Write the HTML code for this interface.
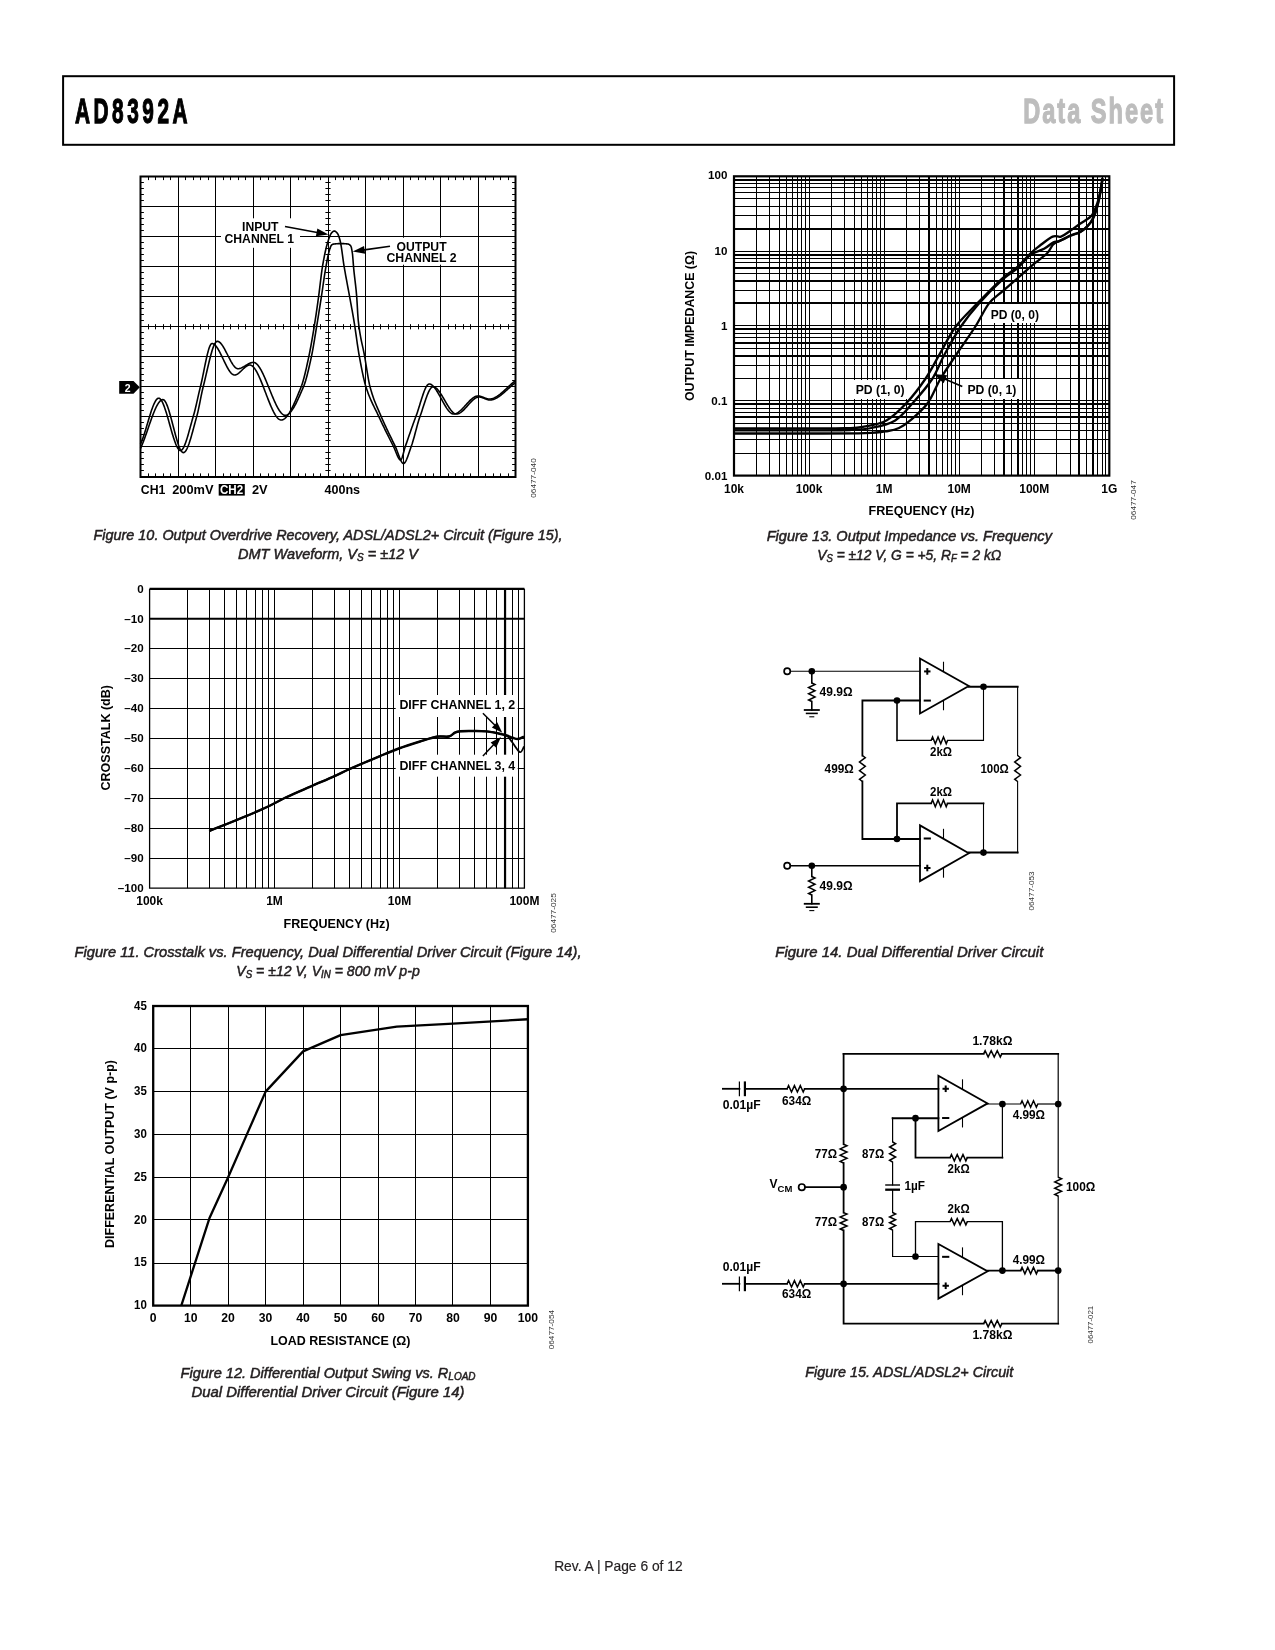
<!DOCTYPE html><html><head><meta charset="utf-8"><style>html,body{margin:0;padding:0;background:#fff;}svg{display:block;will-change:transform;}</style></head><body>
<svg width="1275" height="1650" viewBox="0 0 1275 1650">
<rect x="0" y="0" width="1275" height="1650" fill="#fff"/>
<rect x="63.1" y="76.2" width="1111" height="68.6" fill="none" stroke="#000" stroke-width="2"/>
<text transform="translate(75,122.8) scale(0.57,0.975)" font-family="Liberation Sans" font-size="36.5" font-weight="bold" letter-spacing="6.2" fill="#000" stroke="#000" stroke-width="1.3">AD8392A</text>
<text transform="translate(1023.2,122.8) scale(0.646,0.975)" font-family="Liberation Sans" font-size="36.5" font-weight="bold" letter-spacing="3.1" fill="#bdbdbd" stroke="#bdbdbd" stroke-width="1.3">Data Sheet</text>
<path d="M178.5,176.5V477 M215.5,176.5V477 M253.5,176.5V477 M290.5,176.5V477 M328.5,176.5V477 M365.5,176.5V477 M403.5,176.5V477 M440.5,176.5V477 M478.5,176.5V477 M140.5,206.5H515.5 M140.5,236.5H515.5 M140.5,266.5H515.5 M140.5,296.5H515.5 M140.5,326.5H515.5 M140.5,356.5H515.5 M140.5,386.5H515.5 M140.5,416.5H515.5 M140.5,446.5H515.5 M148.5,176.5V180.1 M148.5,477V473.4 M148.5,324.15V329.35 M155.5,176.5V180.1 M155.5,477V473.4 M155.5,324.15V329.35 M163.5,176.5V180.1 M163.5,477V473.4 M163.5,324.15V329.35 M170.5,176.5V180.1 M170.5,477V473.4 M170.5,324.15V329.35 M185.5,176.5V180.1 M185.5,477V473.4 M185.5,324.15V329.35 M193.5,176.5V180.1 M193.5,477V473.4 M193.5,324.15V329.35 M200.5,176.5V180.1 M200.5,477V473.4 M200.5,324.15V329.35 M208.5,176.5V180.1 M208.5,477V473.4 M208.5,324.15V329.35 M223.5,176.5V180.1 M223.5,477V473.4 M223.5,324.15V329.35 M230.5,176.5V180.1 M230.5,477V473.4 M230.5,324.15V329.35 M238.5,176.5V180.1 M238.5,477V473.4 M238.5,324.15V329.35 M245.5,176.5V180.1 M245.5,477V473.4 M245.5,324.15V329.35 M260.5,176.5V180.1 M260.5,477V473.4 M260.5,324.15V329.35 M268.5,176.5V180.1 M268.5,477V473.4 M268.5,324.15V329.35 M275.5,176.5V180.1 M275.5,477V473.4 M275.5,324.15V329.35 M283.5,176.5V180.1 M283.5,477V473.4 M283.5,324.15V329.35 M298.5,176.5V180.1 M298.5,477V473.4 M298.5,324.15V329.35 M305.5,176.5V180.1 M305.5,477V473.4 M305.5,324.15V329.35 M313.5,176.5V180.1 M313.5,477V473.4 M313.5,324.15V329.35 M320.5,176.5V180.1 M320.5,477V473.4 M320.5,324.15V329.35 M335.5,176.5V180.1 M335.5,477V473.4 M335.5,324.15V329.35 M343.5,176.5V180.1 M343.5,477V473.4 M343.5,324.15V329.35 M350.5,176.5V180.1 M350.5,477V473.4 M350.5,324.15V329.35 M358.5,176.5V180.1 M358.5,477V473.4 M358.5,324.15V329.35 M373.5,176.5V180.1 M373.5,477V473.4 M373.5,324.15V329.35 M380.5,176.5V180.1 M380.5,477V473.4 M380.5,324.15V329.35 M388.5,176.5V180.1 M388.5,477V473.4 M388.5,324.15V329.35 M395.5,176.5V180.1 M395.5,477V473.4 M395.5,324.15V329.35 M410.5,176.5V180.1 M410.5,477V473.4 M410.5,324.15V329.35 M418.5,176.5V180.1 M418.5,477V473.4 M418.5,324.15V329.35 M425.5,176.5V180.1 M425.5,477V473.4 M425.5,324.15V329.35 M433.5,176.5V180.1 M433.5,477V473.4 M433.5,324.15V329.35 M448.5,176.5V180.1 M448.5,477V473.4 M448.5,324.15V329.35 M455.5,176.5V180.1 M455.5,477V473.4 M455.5,324.15V329.35 M463.5,176.5V180.1 M463.5,477V473.4 M463.5,324.15V329.35 M470.5,176.5V180.1 M470.5,477V473.4 M470.5,324.15V329.35 M485.5,176.5V180.1 M485.5,477V473.4 M485.5,324.15V329.35 M493.5,176.5V180.1 M493.5,477V473.4 M493.5,324.15V329.35 M500.5,176.5V180.1 M500.5,477V473.4 M500.5,324.15V329.35 M508.5,176.5V180.1 M508.5,477V473.4 M508.5,324.15V329.35 M140.5,182.5H143.9 M515.5,182.5H512.1 M325.4,182.5H330.6 M140.5,188.5H143.9 M515.5,188.5H512.1 M325.4,188.5H330.6 M140.5,194.5H143.9 M515.5,194.5H512.1 M325.4,194.5H330.6 M140.5,200.5H143.9 M515.5,200.5H512.1 M325.4,200.5H330.6 M140.5,212.5H143.9 M515.5,212.5H512.1 M325.4,212.5H330.6 M140.5,218.5H143.9 M515.5,218.5H512.1 M325.4,218.5H330.6 M140.5,224.5H143.9 M515.5,224.5H512.1 M325.4,224.5H330.6 M140.5,230.5H143.9 M515.5,230.5H512.1 M325.4,230.5H330.6 M140.5,242.5H143.9 M515.5,242.5H512.1 M325.4,242.5H330.6 M140.5,248.5H143.9 M515.5,248.5H512.1 M325.4,248.5H330.6 M140.5,254.5H143.9 M515.5,254.5H512.1 M325.4,254.5H330.6 M140.5,260.5H143.9 M515.5,260.5H512.1 M325.4,260.5H330.6 M140.5,272.5H143.9 M515.5,272.5H512.1 M325.4,272.5H330.6 M140.5,278.5H143.9 M515.5,278.5H512.1 M325.4,278.5H330.6 M140.5,284.5H143.9 M515.5,284.5H512.1 M325.4,284.5H330.6 M140.5,290.5H143.9 M515.5,290.5H512.1 M325.4,290.5H330.6 M140.5,302.5H143.9 M515.5,302.5H512.1 M325.4,302.5H330.6 M140.5,308.5H143.9 M515.5,308.5H512.1 M325.4,308.5H330.6 M140.5,314.5H143.9 M515.5,314.5H512.1 M325.4,314.5H330.6 M140.5,320.5H143.9 M515.5,320.5H512.1 M325.4,320.5H330.6 M140.5,332.5H143.9 M515.5,332.5H512.1 M325.4,332.5H330.6 M140.5,338.5H143.9 M515.5,338.5H512.1 M325.4,338.5H330.6 M140.5,344.5H143.9 M515.5,344.5H512.1 M325.4,344.5H330.6 M140.5,350.5H143.9 M515.5,350.5H512.1 M325.4,350.5H330.6 M140.5,362.5H143.9 M515.5,362.5H512.1 M325.4,362.5H330.6 M140.5,368.5H143.9 M515.5,368.5H512.1 M325.4,368.5H330.6 M140.5,374.5H143.9 M515.5,374.5H512.1 M325.4,374.5H330.6 M140.5,380.5H143.9 M515.5,380.5H512.1 M325.4,380.5H330.6 M140.5,392.5H143.9 M515.5,392.5H512.1 M325.4,392.5H330.6 M140.5,398.5H143.9 M515.5,398.5H512.1 M325.4,398.5H330.6 M140.5,404.5H143.9 M515.5,404.5H512.1 M325.4,404.5H330.6 M140.5,410.5H143.9 M515.5,410.5H512.1 M325.4,410.5H330.6 M140.5,422.5H143.9 M515.5,422.5H512.1 M325.4,422.5H330.6 M140.5,428.5H143.9 M515.5,428.5H512.1 M325.4,428.5H330.6 M140.5,434.5H143.9 M515.5,434.5H512.1 M325.4,434.5H330.6 M140.5,440.5H143.9 M515.5,440.5H512.1 M325.4,440.5H330.6 M140.5,452.5H143.9 M515.5,452.5H512.1 M325.4,452.5H330.6 M140.5,458.5H143.9 M515.5,458.5H512.1 M325.4,458.5H330.6 M140.5,464.5H143.9 M515.5,464.5H512.1 M325.4,464.5H330.6 M140.5,470.5H143.9 M515.5,470.5H512.1 M325.4,470.5H330.6" stroke="#000" stroke-width="1" fill="none"/>
<rect x="140.5" y="176.5" width="375" height="300.5" fill="none" stroke="#000" stroke-width="2"/>
<rect x="221" y="218.3" width="79" height="29.5" fill="#fff"/>
<rect x="384" y="237.7" width="77" height="27" fill="#fff"/>
<path d="M140.5,444 L141.01,442.9 L141.51,441.72 L142.02,440.45 L142.52,439.11 L143.03,437.71 L143.53,436.24 L144.04,434.71 L144.54,433.14 L145.05,431.53 L145.56,429.89 L146.06,428.22 L146.57,426.53 L147.07,424.83 L147.58,423.12 L148.08,421.42 L148.59,419.72 L149.09,418.04 L149.6,416.38 L150.11,414.75 L150.61,413.15 L151.12,411.6 L151.62,410.1 L152.13,408.66 L152.63,407.28 L153.14,405.97 L153.64,404.73 L154.15,403.59 L154.66,402.53 L155.16,401.57 L155.67,400.72 L156.17,399.98 L156.68,399.36 L157.18,398.86 L157.69,398.5 L158.19,398.28 L158.7,398.2 L159.21,398.28 L159.72,398.53 L160.23,398.93 L160.74,399.47 L161.25,400.16 L161.76,400.97 L162.27,401.91 L162.77,402.96 L163.28,404.11 L163.79,405.37 L164.3,406.72 L164.81,408.15 L165.32,409.65 L165.83,411.22 L166.34,412.85 L166.85,414.53 L167.36,416.26 L167.87,418.02 L168.38,419.81 L168.89,421.62 L169.4,423.44 L169.9,425.26 L170.41,427.08 L170.92,428.89 L171.43,430.68 L171.94,432.44 L172.45,434.17 L172.96,435.85 L173.47,437.48 L173.98,439.05 L174.49,440.55 L175,441.98 L175.51,443.33 L176.02,444.59 L176.53,445.74 L177.03,446.79 L177.54,447.73 L178.05,448.54 L178.56,449.23 L179.07,449.77 L179.58,450.17 L180.09,450.42 L180.6,450.5 L181.11,450.41 L181.62,450.13 L182.12,449.68 L182.63,449.06 L183.14,448.3 L183.65,447.39 L184.16,446.35 L184.66,445.18 L185.17,443.91 L185.68,442.53 L186.19,441.06 L186.7,439.5 L187.2,437.87 L187.71,436.18 L188.22,434.44 L188.73,432.65 L189.24,430.83 L189.74,428.99 L190.25,427.14 L190.76,425.28 L191.27,423.43 L191.78,421.6 L192.28,419.79 L192.79,418.02 L193.3,416.3 L193.81,414.54 L194.31,412.67 L194.82,410.7 L195.33,408.64 L195.84,406.5 L196.34,404.32 L196.85,402.1 L197.36,399.85 L197.86,397.6 L198.37,395.36 L198.88,393.14 L199.39,390.96 L199.89,388.84 L200.4,386.8 L200.9,384.74 L201.41,382.55 L201.91,380.26 L202.42,377.89 L202.92,375.45 L203.43,372.97 L203.93,370.46 L204.43,367.95 L204.94,365.46 L205.44,363 L205.95,360.6 L206.45,358.27 L206.96,356.04 L207.46,353.93 L207.97,351.96 L208.47,350.14 L208.97,348.5 L209.48,347.05 L209.98,345.83 L210.49,344.84 L210.99,344.11 L211.5,343.66 L212,343.5 L212.5,343.55 L213,343.68 L213.5,343.9 L214,344.2 L214.5,344.58 L215,345.03 L215.5,345.55 L216,346.13 L216.5,346.78 L217,347.48 L217.5,348.23 L218,349.03 L218.5,349.87 L219,350.75 L219.5,351.67 L220,352.61 L220.5,353.59 L221,354.59 L221.5,355.6 L222,356.64 L222.5,357.68 L223,358.73 L223.5,359.77 L224,360.82 L224.5,361.86 L225,362.9 L225.5,363.91 L226,364.91 L226.5,365.89 L227,366.83 L227.5,367.75 L228,368.63 L228.5,369.47 L229,370.27 L229.5,371.02 L230,371.72 L230.5,372.37 L231,372.95 L231.5,373.47 L232,373.92 L232.5,374.3 L233,374.6 L233.5,374.82 L234,374.95 L234.5,375 L235.01,374.97 L235.52,374.87 L236.03,374.72 L236.54,374.51 L237.05,374.26 L237.56,373.96 L238.07,373.62 L238.58,373.25 L239.09,372.84 L239.6,372.41 L240.11,371.95 L240.62,371.48 L241.13,370.99 L241.64,370.5 L242.15,370 L242.66,369.5 L243.17,369.01 L243.68,368.52 L244.19,368.05 L244.7,367.59 L245.21,367.16 L245.72,366.75 L246.23,366.38 L246.74,366.04 L247.25,365.74 L247.76,365.49 L248.27,365.28 L248.78,365.13 L249.29,365.03 L249.8,365 L250.31,365.04 L250.81,365.17 L251.32,365.37 L251.83,365.66 L252.33,366.02 L252.84,366.45 L253.35,366.94 L253.85,367.51 L254.36,368.14 L254.86,368.83 L255.37,369.58 L255.88,370.38 L256.38,371.24 L256.89,372.15 L257.4,373.1 L257.9,374.1 L258.41,375.14 L258.92,376.22 L259.42,377.33 L259.93,378.48 L260.44,379.66 L260.94,380.86 L261.45,382.09 L261.95,383.34 L262.46,384.62 L262.97,385.9 L263.47,387.21 L263.98,388.52 L264.49,389.84 L264.99,391.17 L265.5,392.5 L266.01,393.83 L266.51,395.16 L267.02,396.48 L267.53,397.79 L268.03,399.1 L268.54,400.38 L269.05,401.66 L269.55,402.91 L270.06,404.14 L270.56,405.34 L271.07,406.52 L271.58,407.67 L272.08,408.78 L272.59,409.86 L273.1,410.9 L273.6,411.9 L274.11,412.85 L274.62,413.76 L275.12,414.62 L275.63,415.42 L276.14,416.17 L276.64,416.86 L277.15,417.49 L277.65,418.06 L278.16,418.55 L278.67,418.98 L279.17,419.34 L279.68,419.63 L280.19,419.83 L280.69,419.96 L281.2,420 L281.7,419.97 L282.2,419.88 L282.7,419.73 L283.2,419.52 L283.7,419.25 L284.2,418.93 L284.7,418.56 L285.2,418.13 L285.7,417.66 L286.2,417.13 L286.7,416.56 L287.2,415.95 L287.7,415.29 L288.2,414.59 L288.7,413.85 L289.2,413.07 L289.7,412.25 L290.2,411.39 L290.7,410.51 L291.2,409.58 L291.7,408.63 L292.2,407.65 L292.7,406.64 L293.2,405.6 L293.7,404.54 L294.2,403.46 L294.7,402.35 L295.2,401.23 L295.7,400.08 L296.2,398.92 L296.7,397.74 L297.2,396.55 L297.7,395.34 L298.2,394.13 L298.7,392.9 L299.2,391.67 L299.7,390.43 L300.2,389.19 L300.7,387.95 L301.2,386.7 L301.71,385.36 L302.21,383.89 L302.72,382.29 L303.23,380.57 L303.73,378.74 L304.24,376.81 L304.75,374.79 L305.25,372.7 L305.76,370.54 L306.27,368.32 L306.77,366.05 L307.28,363.75 L307.79,361.41 L308.29,359.06 L308.8,356.7 L309.33,354.17 L309.86,351.52 L310.39,348.77 L310.92,345.92 L311.45,342.98 L311.98,339.96 L312.51,336.88 L313.04,333.73 L313.57,330.54 L314.1,327.3 L314.6,324.18 L315.1,320.97 L315.6,317.67 L316.1,314.3 L316.6,310.86 L317.1,307.36 L317.6,303.81 L318.1,300.22 L318.6,296.6 L319.16,292.36 L319.71,287.82 L320.27,283.16 L320.83,278.53 L321.39,274.09 L321.94,269.99 L322.5,266.4 L323,263.5 L323.5,260.71 L324,258.03 L324.5,255.47 L325,253.03 L325.5,250.73 L326,248.57 L326.5,246.55 L327,244.7 L327.5,243 L328,241.4 L328.5,239.83 L329,238.33 L329.5,236.93 L330,235.66 L330.5,234.56 L331,233.67 L331.5,233 L332.06,232.41 L332.62,231.86 L333.18,231.41 L333.74,231.11 L334.3,231 L334.83,231.09 L335.37,231.35 L335.9,231.75 L336.43,232.26 L336.97,232.86 L337.5,233.5 L338.04,234.38 L338.58,235.64 L339.12,237.2 L339.66,239.01 L340.2,241 L340.76,243.55 L341.31,246.84 L341.87,250.62 L342.43,254.69 L342.99,258.83 L343.54,262.8 L344.1,266.4 L344.6,269.35 L345.1,272.22 L345.6,275.02 L346.1,277.76 L346.6,280.47 L347.1,283.15 L347.6,285.81 L348.1,288.48 L348.6,291.15 L349.1,293.86 L349.6,296.6 L350.12,299.48 L350.65,302.34 L351.18,305.19 L351.7,308.05 L352.23,310.95 L352.75,313.89 L353.28,316.9 L353.8,320 L354.31,323.15 L354.82,326.46 L355.33,329.9 L355.84,333.41 L356.35,336.97 L356.85,340.51 L357.36,344.01 L357.87,347.42 L358.38,350.7 L358.89,353.81 L359.4,356.7 L359.9,359.41 L360.4,362.09 L360.9,364.73 L361.4,367.33 L361.9,369.86 L362.4,372.32 L362.9,374.7 L363.4,376.99 L363.9,379.18 L364.4,381.26 L364.9,383.21 L365.4,385.03 L365.9,386.7 L366.42,388.32 L366.93,389.87 L367.45,391.36 L367.96,392.8 L368.48,394.18 L369,395.52 L369.51,396.8 L370.03,398.05 L370.54,399.26 L371.06,400.44 L371.58,401.58 L372.09,402.7 L372.61,403.8 L373.12,404.88 L373.64,405.94 L374.16,406.99 L374.67,408.03 L375.19,409.06 L375.7,410.1 L376.22,411.14 L376.74,412.18 L377.25,413.24 L377.77,414.31 L378.28,415.39 L378.8,416.5 L379.31,417.6 L379.81,418.69 L380.32,419.77 L380.83,420.85 L381.33,421.93 L381.84,422.99 L382.35,424.06 L382.86,425.12 L383.36,426.17 L383.87,427.22 L384.38,428.26 L384.88,429.3 L385.39,430.34 L385.9,431.37 L386.4,432.4 L386.91,433.42 L387.42,434.44 L387.92,435.46 L388.43,436.48 L388.94,437.49 L389.44,438.5 L389.95,439.51 L390.46,440.51 L390.97,441.51 L391.47,442.51 L391.98,443.51 L392.49,444.51 L392.99,445.51 L393.5,446.5 L394.01,447.55 L394.51,448.71 L395.02,449.94 L395.53,451.21 L396.04,452.49 L396.54,453.76 L397.05,454.99 L397.56,456.15 L398.06,457.21 L398.57,458.14 L399.08,458.91 L399.59,459.5 L400.09,459.87 L400.6,460 L401.12,459.68 L401.64,458.81 L402.17,457.49 L402.69,455.84 L403.21,453.97 L403.73,451.99 L404.26,450.01 L404.78,448.14 L405.3,446.5 L405.8,445.06 L406.31,443.61 L406.81,442.15 L407.32,440.69 L407.82,439.23 L408.33,437.77 L408.83,436.31 L409.34,434.84 L409.84,433.39 L410.35,431.93 L410.85,430.48 L411.36,429.03 L411.86,427.6 L412.37,426.17 L412.87,424.75 L413.38,423.34 L413.88,421.94 L414.39,420.56 L414.89,419.19 L415.4,417.84 L415.9,416.5 L416.41,415.12 L416.92,413.66 L417.43,412.14 L417.95,410.58 L418.46,408.97 L418.97,407.33 L419.48,405.67 L419.99,404 L420.5,402.34 L421.02,400.68 L421.53,399.04 L422.04,397.44 L422.55,395.88 L423.06,394.37 L423.57,392.92 L424.08,391.54 L424.6,390.25 L425.11,389.04 L425.62,387.95 L426.13,386.96 L426.64,386.1 L427.15,385.37 L427.67,384.79 L428.18,384.36 L428.69,384.09 L429.2,384 L429.71,384.04 L430.22,384.15 L430.72,384.34 L431.23,384.59 L431.74,384.91 L432.25,385.29 L432.76,385.73 L433.27,386.22 L433.77,386.77 L434.28,387.36 L434.79,388 L435.3,388.69 L435.81,389.41 L436.32,390.17 L436.82,390.96 L437.33,391.78 L437.84,392.62 L438.35,393.49 L438.86,394.38 L439.37,395.28 L439.88,396.2 L440.38,397.13 L440.89,398.06 L441.4,399 L441.91,399.94 L442.42,400.87 L442.93,401.8 L443.43,402.72 L443.94,403.62 L444.45,404.51 L444.96,405.38 L445.47,406.22 L445.98,407.04 L446.48,407.83 L446.99,408.59 L447.5,409.31 L448.01,410 L448.52,410.64 L449.03,411.23 L449.53,411.78 L450.04,412.27 L450.55,412.71 L451.06,413.09 L451.57,413.41 L452.08,413.66 L452.58,413.85 L453.09,413.96 L453.6,414 L454.11,413.98 L454.62,413.91 L455.12,413.8 L455.63,413.65 L456.14,413.45 L456.65,413.23 L457.16,412.96 L457.67,412.67 L458.18,412.34 L458.68,411.98 L459.19,411.6 L459.7,411.19 L460.21,410.75 L460.72,410.3 L461.23,409.83 L461.73,409.33 L462.24,408.83 L462.75,408.3 L463.26,407.77 L463.77,407.23 L464.28,406.68 L464.78,406.12 L465.29,405.56 L465.8,405 L466.31,404.44 L466.82,403.88 L467.32,403.32 L467.83,402.77 L468.34,402.23 L468.85,401.7 L469.36,401.17 L469.87,400.67 L470.38,400.17 L470.88,399.7 L471.39,399.25 L471.9,398.81 L472.41,398.4 L472.92,398.02 L473.43,397.66 L473.93,397.33 L474.44,397.04 L474.95,396.77 L475.46,396.55 L475.97,396.35 L476.48,396.2 L476.98,396.09 L477.49,396.02 L478,396 L478.52,396.02 L479.04,396.07 L479.55,396.15 L480.07,396.26 L480.59,396.39 L481.11,396.55 L481.63,396.72 L482.15,396.9 L482.66,397.1 L483.18,397.3 L483.7,397.5 L484.22,397.7 L484.74,397.9 L485.25,398.1 L485.77,398.28 L486.29,398.45 L486.81,398.61 L487.33,398.74 L487.85,398.85 L488.36,398.93 L488.88,398.98 L489.4,399 L489.9,398.99 L490.4,398.95 L490.91,398.88 L491.41,398.79 L491.91,398.68 L492.41,398.55 L492.91,398.39 L493.42,398.21 L493.92,398.01 L494.42,397.79 L494.92,397.55 L495.42,397.3 L495.93,397.02 L496.43,396.73 L496.93,396.43 L497.43,396.1 L497.93,395.77 L498.44,395.42 L498.94,395.05 L499.44,394.67 L499.94,394.29 L500.44,393.89 L500.95,393.48 L501.45,393.06 L501.95,392.63 L502.45,392.2 L502.95,391.76 L503.45,391.31 L503.96,390.86 L504.46,390.4 L504.96,389.94 L505.46,389.47 L505.96,389 L506.47,388.53 L506.97,388.06 L507.47,387.59 L507.97,387.12 L508.47,386.65 L508.98,386.18 L509.48,385.72 L509.98,385.26 L510.48,384.8 L510.98,384.35 L511.49,383.9 L511.99,383.46 L512.49,383.03 L512.99,382.6 L513.49,382.19 L514,381.78 L514.5,381.39 L515,381 L515.5,380.62" stroke="#000" stroke-width="1.6" fill="none" stroke-linejoin="round"/>
<path d="M140.5,448.4 L141.01,447.3 L141.52,446.15 L142.03,444.95 L142.54,443.71 L143.05,442.44 L143.55,441.12 L144.06,439.77 L144.57,438.4 L145.08,437 L145.59,435.57 L146.1,434.13 L146.61,432.68 L147.12,431.21 L147.63,429.74 L148.14,428.26 L148.65,426.78 L149.15,425.3 L149.66,423.83 L150.17,422.37 L150.68,420.93 L151.19,419.5 L151.7,418.1 L152.21,416.71 L152.72,415.36 L153.23,414.04 L153.74,412.75 L154.25,411.5 L154.75,410.29 L155.26,409.13 L155.77,408.02 L156.28,406.96 L156.79,405.95 L157.3,405.01 L157.81,404.13 L158.32,403.32 L158.83,402.58 L159.34,401.91 L159.85,401.32 L160.35,400.81 L160.86,400.38 L161.37,400.05 L161.88,399.8 L162.39,399.65 L162.9,399.6 L163.4,399.69 L163.9,399.97 L164.4,400.41 L164.9,401.01 L165.4,401.77 L165.9,402.67 L166.4,403.71 L166.9,404.87 L167.4,406.14 L167.9,407.52 L168.4,409 L168.9,410.56 L169.4,412.21 L169.9,413.92 L170.4,415.69 L170.9,417.51 L171.4,419.38 L171.9,421.28 L172.4,423.2 L172.9,425.13 L173.4,427.07 L173.9,429 L174.4,430.92 L174.9,432.82 L175.4,434.69 L175.9,436.51 L176.4,438.28 L176.9,439.99 L177.4,441.64 L177.9,443.2 L178.4,444.68 L178.9,446.06 L179.4,447.33 L179.9,448.49 L180.4,449.53 L180.9,450.43 L181.4,451.19 L181.9,451.79 L182.4,452.23 L182.9,452.51 L183.4,452.6 L183.92,452.51 L184.43,452.25 L184.95,451.82 L185.46,451.23 L185.98,450.5 L186.49,449.63 L187.01,448.62 L187.52,447.5 L188.04,446.26 L188.55,444.92 L189.07,443.48 L189.58,441.95 L190.1,440.35 L190.62,438.67 L191.13,436.94 L191.65,435.15 L192.16,433.32 L192.68,431.45 L193.19,429.56 L193.71,427.65 L194.22,425.73 L194.74,423.81 L195.25,421.9 L195.77,420 L196.28,418.13 L196.8,416.3 L197.33,414.3 L197.87,412.08 L198.4,409.69 L198.93,407.15 L199.47,404.53 L200,401.84 L200.53,399.14 L201.07,396.46 L201.6,393.85 L202.13,391.34 L202.67,388.98 L203.2,386.8 L203.7,384.81 L204.21,382.77 L204.71,380.67 L205.21,378.53 L205.72,376.37 L206.22,374.19 L206.72,371.99 L207.23,369.8 L207.73,367.62 L208.24,365.46 L208.74,363.32 L209.24,361.23 L209.75,359.19 L210.25,357.21 L210.75,355.3 L211.26,353.46 L211.76,351.72 L212.26,350.08 L212.77,348.54 L213.27,347.13 L213.78,345.84 L214.28,344.7 L214.78,343.7 L215.29,342.86 L215.79,342.19 L216.29,341.7 L216.8,341.4 L217.3,341.3 L217.8,341.35 L218.31,341.49 L218.81,341.72 L219.32,342.03 L219.82,342.42 L220.33,342.89 L220.83,343.42 L221.34,344.02 L221.84,344.68 L222.35,345.39 L222.85,346.16 L223.36,346.97 L223.86,347.82 L224.37,348.7 L224.87,349.62 L225.38,350.56 L225.88,351.53 L226.39,352.51 L226.89,353.5 L227.4,354.5 L227.9,355.5 L228.41,356.5 L228.91,357.49 L229.42,358.47 L229.92,359.44 L230.43,360.38 L230.93,361.3 L231.44,362.18 L231.94,363.03 L232.45,363.84 L232.95,364.61 L233.46,365.32 L233.96,365.98 L234.47,366.58 L234.97,367.11 L235.48,367.58 L235.98,367.97 L236.49,368.28 L236.99,368.51 L237.5,368.65 L238,368.7 L238.51,368.68 L239.03,368.62 L239.54,368.52 L240.05,368.39 L240.57,368.23 L241.08,368.04 L241.59,367.83 L242.11,367.59 L242.62,367.34 L243.13,367.07 L243.65,366.78 L244.16,366.48 L244.67,366.18 L245.19,365.86 L245.7,365.55 L246.21,365.24 L246.73,364.92 L247.24,364.62 L247.75,364.32 L248.27,364.03 L248.78,363.76 L249.29,363.51 L249.81,363.27 L250.32,363.06 L250.83,362.87 L251.35,362.71 L251.86,362.58 L252.37,362.48 L252.89,362.42 L253.4,362.4 L253.91,362.44 L254.41,362.56 L254.92,362.75 L255.43,363.01 L255.93,363.35 L256.44,363.75 L256.94,364.21 L257.45,364.74 L257.96,365.33 L258.46,365.98 L258.97,366.67 L259.48,367.43 L259.98,368.23 L260.49,369.08 L261,369.97 L261.5,370.9 L262.01,371.88 L262.51,372.89 L263.02,373.93 L263.53,375.01 L264.03,376.11 L264.54,377.25 L265.05,378.4 L265.55,379.58 L266.06,380.78 L266.57,381.99 L267.07,383.22 L267.58,384.46 L268.08,385.71 L268.59,386.96 L269.1,388.22 L269.6,389.48 L270.11,390.74 L270.62,391.99 L271.12,393.24 L271.63,394.48 L272.13,395.71 L272.64,396.92 L273.15,398.12 L273.65,399.3 L274.16,400.45 L274.67,401.59 L275.17,402.69 L275.68,403.77 L276.19,404.81 L276.69,405.82 L277.2,406.8 L277.7,407.73 L278.21,408.62 L278.72,409.47 L279.22,410.27 L279.73,411.03 L280.24,411.72 L280.74,412.37 L281.25,412.96 L281.76,413.49 L282.26,413.95 L282.77,414.35 L283.27,414.69 L283.78,414.95 L284.29,415.14 L284.79,415.26 L285.3,415.3 L285.81,415.27 L286.31,415.17 L286.82,415.01 L287.32,414.79 L287.83,414.51 L288.33,414.17 L288.84,413.78 L289.34,413.33 L289.85,412.84 L290.36,412.29 L290.86,411.7 L291.37,411.05 L291.87,410.37 L292.38,409.64 L292.88,408.88 L293.39,408.07 L293.89,407.23 L294.4,406.35 L294.91,405.44 L295.41,404.5 L295.92,403.53 L296.42,402.53 L296.93,401.5 L297.43,400.45 L297.94,399.38 L298.44,398.29 L298.95,397.19 L299.46,396.06 L299.96,394.92 L300.47,393.77 L300.97,392.61 L301.48,391.44 L301.98,390.26 L302.49,389.08 L302.99,387.89 L303.5,386.7 L304.03,385.39 L304.55,383.95 L305.08,382.38 L305.61,380.69 L306.13,378.89 L306.66,376.99 L307.19,375 L307.71,372.92 L308.24,370.76 L308.77,368.54 L309.29,366.26 L309.82,363.93 L310.35,361.55 L310.87,359.14 L311.4,356.7 L311.91,354.23 L312.42,351.59 L312.93,348.8 L313.44,345.88 L313.95,342.87 L314.46,339.78 L314.97,336.66 L315.48,333.52 L315.99,330.39 L316.5,327.3 L317.04,324.01 L317.59,320.68 L318.13,317.31 L318.68,313.91 L319.22,310.48 L319.77,307.03 L320.31,303.57 L320.86,300.09 L321.4,296.6 L321.91,293.25 L322.42,289.78 L322.93,286.25 L323.44,282.7 L323.96,279.18 L324.47,275.74 L324.98,272.43 L325.49,269.3 L326,266.4 L326.5,263.69 L327,261.01 L327.5,258.42 L328,255.97 L328.5,253.71 L329,251.71 L329.5,250 L330.02,248.38 L330.55,246.88 L331.08,245.69 L331.6,245 L332.2,244.61 L332.8,244.32 L333.4,244.11 L334,244 L334.5,243.94 L335,243.89 L335.5,243.85 L336,243.8 L336.5,243.76 L337,243.73 L337.5,243.7 L338,243.67 L338.5,243.65 L339,243.63 L339.5,243.62 L340,243.61 L340.5,243.6 L341,243.6 L341.5,243.6 L342,243.61 L342.5,243.62 L343,243.63 L343.5,243.65 L344,243.67 L344.5,243.69 L345,243.72 L345.5,243.76 L346,243.8 L346.5,243.84 L347,243.89 L347.5,243.94 L348,244 L348.56,244.13 L349.12,244.4 L349.68,244.8 L350.24,245.33 L350.8,246 L351.37,247.51 L351.93,250.3 L352.5,254 L353,259.72 L353.5,266.4 L354.03,271.81 L354.57,276.56 L355.1,281.04 L355.63,285.63 L356.17,290.69 L356.7,296.6 L357.2,304.34 L357.7,313.24 L358.2,320 L358.7,324.33 L359.2,328.18 L359.7,331.61 L360.2,334.68 L360.7,337.46 L361.2,340.01 L361.7,342.4 L362.2,344.67 L362.7,346.91 L363.2,349.17 L363.7,351.51 L364.2,354 L364.7,356.7 L365.23,359.79 L365.76,363.01 L366.29,366.32 L366.82,369.65 L367.35,372.94 L367.88,376.13 L368.41,379.16 L368.94,381.97 L369.47,384.51 L370,386.7 L370.51,388.58 L371.02,390.38 L371.53,392.09 L372.04,393.73 L372.55,395.31 L373.05,396.81 L373.56,398.26 L374.07,399.66 L374.58,401 L375.09,402.31 L375.6,403.57 L376.11,404.8 L376.62,406.01 L377.13,407.19 L377.64,408.36 L378.15,409.51 L378.65,410.66 L379.16,411.81 L379.67,412.96 L380.18,414.13 L380.69,415.3 L381.2,416.5 L381.7,417.69 L382.21,418.86 L382.71,420.02 L383.21,421.16 L383.72,422.29 L384.22,423.4 L384.73,424.51 L385.23,425.6 L385.73,426.69 L386.24,427.76 L386.74,428.83 L387.24,429.89 L387.75,430.94 L388.25,431.99 L388.75,433.03 L389.26,434.07 L389.76,435.1 L390.26,436.13 L390.77,437.16 L391.27,438.19 L391.77,439.22 L392.28,440.25 L392.78,441.29 L393.29,442.32 L393.79,443.36 L394.29,444.4 L394.8,445.45 L395.3,446.5 L395.81,447.64 L396.32,448.88 L396.84,450.2 L397.35,451.58 L397.86,452.98 L398.38,454.4 L398.89,455.8 L399.4,457.15 L399.91,458.44 L400.43,459.63 L400.94,460.71 L401.45,461.65 L401.96,462.42 L402.48,463 L402.99,463.37 L403.5,463.5 L404.01,463.37 L404.53,462.99 L405.04,462.39 L405.55,461.59 L406.07,460.61 L406.58,459.49 L407.09,458.23 L407.61,456.88 L408.12,455.44 L408.63,453.95 L409.15,452.43 L409.66,450.9 L410.17,449.38 L410.69,447.91 L411.2,446.5 L411.72,445.06 L412.24,443.5 L412.75,441.84 L413.27,440.1 L413.79,438.29 L414.31,436.42 L414.82,434.52 L415.34,432.58 L415.86,430.64 L416.38,428.7 L416.89,426.78 L417.41,424.9 L417.93,423.06 L418.45,421.29 L418.96,419.59 L419.48,417.99 L420,416.5 L420.5,415.09 L421,413.64 L421.5,412.15 L422,410.64 L422.5,409.11 L423,407.57 L423.5,406.02 L424,404.48 L424.5,402.96 L425,401.45 L425.5,399.98 L426,398.54 L426.5,397.15 L427,395.81 L427.5,394.53 L428,393.32 L428.5,392.19 L429,391.14 L429.5,390.19 L430,389.34 L430.5,388.6 L431,387.97 L431.5,387.47 L432,387.1 L432.5,386.88 L433,386.8 L433.5,386.84 L434,386.94 L434.5,387.12 L435,387.36 L435.5,387.66 L436,388.02 L436.5,388.43 L437,388.9 L437.5,389.41 L438,389.97 L438.5,390.57 L439,391.21 L439.5,391.89 L440,392.6 L440.5,393.34 L441,394.11 L441.5,394.9 L442,395.71 L442.5,396.54 L443,397.38 L443.5,398.24 L444,399.1 L444.5,399.97 L445,400.83 L445.5,401.7 L446,402.56 L446.5,403.42 L447,404.26 L447.5,405.09 L448,405.9 L448.5,406.69 L449,407.46 L449.5,408.2 L450,408.91 L450.5,409.59 L451,410.23 L451.5,410.83 L452,411.39 L452.5,411.9 L453,412.37 L453.5,412.78 L454,413.14 L454.5,413.44 L455,413.68 L455.5,413.86 L456,413.96 L456.5,414 L457,413.98 L457.5,413.9 L458,413.78 L458.5,413.62 L459,413.42 L459.5,413.17 L460,412.89 L460.5,412.58 L461,412.23 L461.5,411.85 L462,411.45 L462.5,411.02 L463,410.56 L463.5,410.09 L464,409.59 L464.5,409.08 L465,408.55 L465.5,408.02 L466,407.47 L466.5,406.91 L467,406.35 L467.5,405.78 L468,405.22 L468.5,404.65 L469,404.09 L469.5,403.53 L470,402.98 L470.5,402.45 L471,401.92 L471.5,401.41 L472,400.91 L472.5,400.44 L473,399.98 L473.5,399.55 L474,399.15 L474.5,398.77 L475,398.42 L475.5,398.11 L476,397.83 L476.5,397.58 L477,397.38 L477.5,397.22 L478,397.1 L478.5,397.02 L479,397 L479.5,397.02 L480,397.07 L480.5,397.15 L481,397.26 L481.5,397.39 L482,397.55 L482.5,397.72 L483,397.9 L483.5,398.1 L484,398.3 L484.5,398.5 L485,398.7 L485.5,398.9 L486,399.1 L486.5,399.28 L487,399.45 L487.5,399.61 L488,399.74 L488.5,399.85 L489,399.93 L489.5,399.98 L490,400 L490.5,399.99 L491,399.95 L491.5,399.89 L492,399.8 L492.5,399.69 L493,399.56 L493.5,399.41 L494,399.23 L494.5,399.04 L495,398.83 L495.5,398.6 L496,398.35 L496.5,398.08 L497,397.8 L497.5,397.5 L498,397.19 L498.5,396.86 L499,396.52 L499.5,396.17 L500,395.8 L500.5,395.42 L501,395.04 L501.5,394.64 L502,394.24 L502.5,393.82 L503,393.4 L503.5,392.98 L504,392.54 L504.5,392.1 L505,391.66 L505.5,391.21 L506,390.77 L506.5,390.31 L507,389.86 L507.5,389.41 L508,388.95 L508.5,388.5 L509,388.05 L509.5,387.6 L510,387.15 L510.5,386.7 L511,386.27 L511.5,385.83 L512,385.4 L512.5,384.98 L513,384.57 L513.5,384.16 L514,383.76 L514.5,383.38 L515,383 L515.5,382.63" stroke="#000" stroke-width="1.6" fill="none" stroke-linejoin="round"/>
<text x="278.5" y="230.8" font-family="Liberation Sans" font-size="12.2" font-weight="bold" text-anchor="end" fill="#000" textLength="36.5" lengthAdjust="spacingAndGlyphs">INPUT</text>
<text x="294" y="242.5" font-family="Liberation Sans" font-size="12.2" font-weight="bold" text-anchor="end" fill="#000" textLength="69.5" lengthAdjust="spacingAndGlyphs">CHANNEL 1</text>
<text x="396.6" y="250.5" font-family="Liberation Sans" font-size="12.2" font-weight="bold" text-anchor="start" fill="#000" textLength="50" lengthAdjust="spacingAndGlyphs">OUTPUT</text>
<text x="386.5" y="262" font-family="Liberation Sans" font-size="12.2" font-weight="bold" text-anchor="start" fill="#000" textLength="70" lengthAdjust="spacingAndGlyphs">CHANNEL 2</text>
<path d="M285,226.5 L318.57,232.77" stroke="#000" stroke-width="1.6"/>
<path d="M328.4,234.6 L315.87,236.33 L317.34,228.47 Z" fill="#000"/>
<path d="M390,246.3 L362.6,250.12" stroke="#000" stroke-width="1.6"/>
<path d="M352.7,251.5 L364.03,245.88 L365.14,253.8 Z" fill="#000"/>
<path d="M119.2,381 H133.5 L139.8,387.3 L133.5,393.7 H119.2 Z" fill="#000"/>
<text x="127.7" y="391.5" font-family="Liberation Sans" font-size="10.5" font-weight="bold" text-anchor="middle" fill="#fff">2</text>
<text x="140.8" y="493.6" font-family="Liberation Sans" font-size="12" font-weight="bold" text-anchor="start" fill="#000" textLength="24.6" lengthAdjust="spacingAndGlyphs">CH1</text>
<text x="172.2" y="493.6" font-family="Liberation Sans" font-size="12" font-weight="bold" text-anchor="start" fill="#000" textLength="41.3" lengthAdjust="spacingAndGlyphs">200mV</text>
<rect x="218.7" y="484" width="26.1" height="11.6" fill="#000"/>
<text x="220" y="493.6" font-family="Liberation Sans" font-size="12" font-weight="bold" text-anchor="start" fill="#fff" textLength="23.2" lengthAdjust="spacingAndGlyphs">CH2</text>
<text x="251.9" y="493.6" font-family="Liberation Sans" font-size="12" font-weight="bold" text-anchor="start" fill="#000" textLength="15.7" lengthAdjust="spacingAndGlyphs">2V</text>
<text x="324.5" y="493.6" font-family="Liberation Sans" font-size="12" font-weight="bold" text-anchor="start" fill="#000" textLength="35.6" lengthAdjust="spacingAndGlyphs">400ns</text>
<text transform="translate(535.5,478) rotate(-90)" font-family="Liberation Sans" font-size="7.6" text-anchor="middle" fill="#333" textLength="39.5" lengthAdjust="spacingAndGlyphs">06477-040</text>
<text x="328" y="540.4" font-family="Liberation Sans" font-size="14.6" font-weight="normal" text-anchor="middle" fill="#231f20" textLength="469" lengthAdjust="spacingAndGlyphs" font-style="italic" stroke="#231f20" stroke-width="0.5">Figure 10. Output Overdrive Recovery, ADSL/ADSL2+ Circuit (Figure 15),</text>
<text x="328" y="559.4" font-family="Liberation Sans" font-size="14.6" font-weight="normal" text-anchor="middle" fill="#231f20" textLength="180" lengthAdjust="spacingAndGlyphs" font-style="italic" stroke="#231f20" stroke-width="0.5">DMT Waveform, V<tspan font-size="10" dy="2">S</tspan><tspan dy="-2"> = ±12 V</tspan></text>
<path d="M756.5,176.3V475.6 M769.5,176.3V475.6 M779.5,176.3V475.6 M786.5,176.3V475.6 M792.5,176.3V475.6 M797.5,176.3V475.6 M801.5,176.3V475.6 M805.5,176.3V475.6 M809.5,176.3V475.6 M831.5,176.3V475.6 M844.5,176.3V475.6 M854.5,176.3V475.6 M861.5,176.3V475.6 M867.5,176.3V475.6 M872.5,176.3V475.6 M876.5,176.3V475.6 M880.5,176.3V475.6 M884.5,176.3V475.6 M906.5,176.3V475.6 M919.5,176.3V475.6 M936.5,176.3V475.6 M942.5,176.3V475.6 M947.5,176.3V475.6 M951.5,176.3V475.6 M955.5,176.3V475.6 M959.5,176.3V475.6 M981.5,176.3V475.6 M994.5,176.3V475.6 M1011.5,176.3V475.6 M1022.5,176.3V475.6 M1026.5,176.3V475.6 M1030.5,176.3V475.6 M1034.5,176.3V475.6 M1056.5,176.3V475.6 M1070.5,176.3V475.6 M1086.5,176.3V475.6 M1097.5,176.3V475.6 M1102.5,176.3V475.6 M1105.5,176.3V475.6 M734,251.5H1109.3 M734,215.5H1109.3 M734,206.5H1109.3 M734,198.5H1109.3 M734,192.5H1109.3 M734,187.5H1109.3 M734,183.5H1109.3 M734,325.5H1109.3 M734,290.5H1109.3 M734,273.5H1109.3 M734,262.5H1109.3 M734,258.5H1109.3 M734,400.5H1109.3 M734,378.5H1109.3 M734,365.5H1109.3 M734,348.5H1109.3 M734,337.5H1109.3 M734,333.5H1109.3 M734,453.5H1109.3 M734,439.5H1109.3 M734,430.5H1109.3 M734,423.5H1109.3 M734,412.5H1109.3 M734,408.5H1109.3" stroke="#000" stroke-width="1" fill="none"/>
<path d="M929,176.3V475.6 M1004,176.3V475.6 M1018,176.3V475.6 M1079,176.3V475.6 M1093,176.3V475.6 M734,229H1109.3 M734,180H1109.3 M734,303H1109.3 M734,281H1109.3 M734,268H1109.3 M734,255H1109.3 M734,356H1109.3 M734,343H1109.3 M734,329H1109.3 M734,417H1109.3 M734,404H1109.3" stroke="#000" stroke-width="2" fill="none"/>
<rect x="734" y="176.3" width="375.3" height="299.3" fill="none" stroke="#000" stroke-width="2.2"/>
<rect x="846" y="380" width="62" height="19" fill="#fff"/>
<rect x="964" y="379" width="56" height="20" fill="#fff"/>
<rect x="986" y="304" width="57" height="19" fill="#fff"/>
<path d="M735,428.5 C745.83,428.5 781.67,428.55 800,428.5 C818.33,428.45 834.57,428.45 845,428.2 C855.43,427.95 855.7,428.3 862.6,427 C869.5,425.7 879.08,424.4 886.4,420.4 C893.72,416.4 900.02,409.9 906.5,403 C912.98,396.1 919.87,386.97 925.3,379 C930.73,371.03 934.08,363.87 939.1,355.2 C944.12,346.53 949.03,335.63 955.4,327 C961.77,318.37 969.42,311.57 977.3,303.4 C985.18,295.23 995.95,284.12 1002.7,278 C1009.45,271.88 1013.1,270.87 1017.8,266.7 C1022.5,262.53 1027.3,256.45 1030.9,253 C1034.5,249.55 1035.78,248.73 1039.4,246 C1043.02,243.27 1049,238.17 1052.6,236.6 C1056.2,235.03 1058.1,237.53 1061,236.6 C1063.9,235.67 1066.83,233.13 1070,231 C1073.17,228.87 1076.57,226.18 1080,223.8 C1083.43,221.42 1088.13,219.07 1090.6,216.7 C1093.07,214.33 1093.4,212.78 1094.8,209.6 C1096.2,206.42 1097.72,202.87 1099,197.6 C1100.28,192.33 1101.92,181.27 1102.5,178" stroke="#000" stroke-width="2.3" fill="none" stroke-linejoin="round"/>
<path d="M735,430.3 C745.83,430.3 780.83,430.35 800,430.3 C819.17,430.25 838.1,430.38 850,430 C861.9,429.62 863.87,429.6 871.4,428 C878.93,426.4 888.3,424.57 895.2,420.4 C902.1,416.23 906.63,409.9 912.8,403 C918.97,396.1 926.98,386.97 932.2,379 C937.42,371.03 939.38,363.87 944.1,355.2 C948.82,346.53 954.68,335.63 960.5,327 C966.32,318.37 971.97,311.32 979,303.4 C986.03,295.48 996.23,285.4 1002.7,279.5 C1009.17,273.6 1013.1,272.17 1017.8,268 C1022.5,263.83 1026.52,257.7 1030.9,254.5 C1035.28,251.3 1040.33,250.85 1044.1,248.8 C1047.87,246.75 1050.98,243.45 1053.5,242.2 C1056.02,240.95 1056.45,242.4 1059.2,241.3 C1061.95,240.2 1066.53,237.12 1070,235.6 C1073.47,234.08 1077.17,233.7 1080,232.2 C1082.83,230.7 1084.88,228.72 1087,226.6 C1089.12,224.48 1091.05,222.57 1092.7,219.5 C1094.35,216.43 1095.6,213.02 1096.9,208.2 C1098.2,203.38 1099.57,195.63 1100.5,190.6 C1101.43,185.57 1102.17,180.1 1102.5,178" stroke="#000" stroke-width="2.3" fill="none" stroke-linejoin="round"/>
<path d="M735,433.5 C745.83,433.5 778.33,433.55 800,433.5 C821.67,433.45 850.33,433.62 865,433.2 C879.67,432.78 882.33,431.87 888,431 C893.67,430.13 895.28,429.77 899,428 C902.72,426.23 905.5,424.57 910.3,420.4 C915.1,416.23 922.78,409.9 927.8,403 C932.82,396.1 935.37,387.5 940.4,379 C945.43,370.5 952.17,360.75 958,352 C963.83,343.25 970.23,334.6 975.4,326.5 C980.57,318.4 984.45,309.28 989,303.4 C993.55,297.52 997.9,295.43 1002.7,291.2 C1007.5,286.97 1012.78,282.4 1017.8,278 C1022.82,273.6 1027.95,268.88 1032.8,264.8 C1037.65,260.72 1043.6,256.8 1046.9,253.5 C1050.2,250.2 1051.02,246.88 1052.6,245 C1054.18,243.12 1054.67,243.13 1056.4,242.2 C1058.13,241.27 1060.73,240.43 1063,239.4 C1065.27,238.37 1067.5,237.07 1070,236 C1072.5,234.93 1075.52,234.22 1078,233 C1080.48,231.78 1082.8,230.48 1084.9,228.7 C1087,226.92 1088.95,224.77 1090.6,222.3 C1092.25,219.83 1093.4,217.65 1094.8,213.9 C1096.2,210.15 1097.72,205.45 1099,199.8 C1100.28,194.15 1101.92,183.3 1102.5,180" stroke="#000" stroke-width="2.3" fill="none" stroke-linejoin="round"/>
<text x="855.7" y="393.5" font-family="Liberation Sans" font-size="12" font-weight="bold" text-anchor="start" fill="#000" textLength="48.9" lengthAdjust="spacingAndGlyphs">PD (1, 0)</text>
<text x="967.4" y="393.5" font-family="Liberation Sans" font-size="12" font-weight="bold" text-anchor="start" fill="#000" textLength="48.9" lengthAdjust="spacingAndGlyphs">PD (0, 1)</text>
<text x="990.7" y="318.7" font-family="Liberation Sans" font-size="12" font-weight="bold" text-anchor="start" fill="#000" textLength="48.3" lengthAdjust="spacingAndGlyphs">PD (0, 0)</text>
<path d="M962.3,386.6 L943.58,378.41" stroke="#000" stroke-width="1.6"/>
<path d="M933.5,374 L947.13,375.27 L943.69,383.15 Z" fill="#000"/>
<text x="727.4" y="178.5" font-family="Liberation Sans" font-size="11.6" font-weight="bold" text-anchor="end" fill="#000">100</text>
<text x="727.4" y="255.3" font-family="Liberation Sans" font-size="11.6" font-weight="bold" text-anchor="end" fill="#000">10</text>
<text x="727.4" y="330.1" font-family="Liberation Sans" font-size="11.6" font-weight="bold" text-anchor="end" fill="#000">1</text>
<text x="727.4" y="404.9" font-family="Liberation Sans" font-size="11.6" font-weight="bold" text-anchor="end" fill="#000">0.1</text>
<text x="727.4" y="479.8" font-family="Liberation Sans" font-size="11.6" font-weight="bold" text-anchor="end" fill="#000">0.01</text>
<text x="734" y="492.8" font-family="Liberation Sans" font-size="12" font-weight="bold" text-anchor="middle" fill="#000">10k</text>
<text x="809.06" y="492.8" font-family="Liberation Sans" font-size="12" font-weight="bold" text-anchor="middle" fill="#000">100k</text>
<text x="884.12" y="492.8" font-family="Liberation Sans" font-size="12" font-weight="bold" text-anchor="middle" fill="#000">1M</text>
<text x="959.18" y="492.8" font-family="Liberation Sans" font-size="12" font-weight="bold" text-anchor="middle" fill="#000">10M</text>
<text x="1034.24" y="492.8" font-family="Liberation Sans" font-size="12" font-weight="bold" text-anchor="middle" fill="#000">100M</text>
<text x="1109.3" y="492.8" font-family="Liberation Sans" font-size="12" font-weight="bold" text-anchor="middle" fill="#000">1G</text>
<text x="921.5" y="515" font-family="Liberation Sans" font-size="12" font-weight="bold" text-anchor="middle" fill="#000" textLength="106" lengthAdjust="spacingAndGlyphs">FREQUENCY (Hz)</text>
<text transform="translate(694.4,326) rotate(-90)" x="0" y="0" font-family="Liberation Sans" font-size="12" font-weight="bold" text-anchor="middle" fill="#000" textLength="150" lengthAdjust="spacingAndGlyphs">OUTPUT IMPEDANCE (Ω)</text>
<text transform="translate(1135.5,500) rotate(-90)" font-family="Liberation Sans" font-size="7.6" text-anchor="middle" fill="#333" textLength="39.5" lengthAdjust="spacingAndGlyphs">06477-047</text>
<text x="909.3" y="540.8" font-family="Liberation Sans" font-size="14.6" font-weight="normal" text-anchor="middle" fill="#231f20" textLength="285.3" lengthAdjust="spacingAndGlyphs" font-style="italic" stroke="#231f20" stroke-width="0.5">Figure 13. Output Impedance vs. Frequency</text>
<text x="909.3" y="560" font-family="Liberation Sans" font-size="14.6" font-weight="normal" text-anchor="middle" fill="#231f20" textLength="184" lengthAdjust="spacingAndGlyphs" font-style="italic" stroke="#231f20" stroke-width="0.5">V<tspan font-size="10" dy="2">S</tspan><tspan dy="-2"> = ±12 V, G = +5, R</tspan><tspan font-size="10" dy="2">F</tspan><tspan dy="-2"> = 2 kΩ</tspan></text>
<path d="M187.5,588.8V888.2 M209.5,588.8V888.2 M224.5,588.8V888.2 M236.5,588.8V888.2 M246.5,588.8V888.2 M255.5,588.8V888.2 M262.5,588.8V888.2 M268.5,588.8V888.2 M274.5,588.8V888.2 M312.5,588.8V888.2 M334.5,588.8V888.2 M349.5,588.8V888.2 M361.5,588.8V888.2 M371.5,588.8V888.2 M380.5,588.8V888.2 M387.5,588.8V888.2 M393.5,588.8V888.2 M399.5,588.8V888.2 M437.5,588.8V888.2 M459.5,588.8V888.2 M474.5,588.8V888.2 M486.5,588.8V888.2 M496.5,588.8V888.2 M505.5,588.8V888.2 M512.5,588.8V888.2 M518.5,588.8V888.2 M149.6,648.5H524.4 M149.6,678.5H524.4 M149.6,708.5H524.4 M149.6,738.5H524.4 M149.6,768.5H524.4 M149.6,798.5H524.4 M149.6,828.5H524.4 M149.6,858.5H524.4" stroke="#000" stroke-width="1" fill="none"/>
<path d="M149.6,618.74H524.4" stroke="#000" stroke-width="2.2" fill="none"/>
<path d="M505.05,588.8V888.2" stroke="#000" stroke-width="2.2" fill="none"/>
<path d="M149.6,588.8V888.2H524.4V588.8" stroke="#000" stroke-width="1.3" fill="none"/>
<path d="M149.6,588.8H524.4" stroke="#000" stroke-width="2.2" fill="none"/>
<rect x="395.7" y="695" width="122" height="22" fill="#fff"/>
<rect x="395.7" y="754.7" width="122" height="22" fill="#fff"/>
<path d="M209.2,831.1 C217.87,827.53 248.47,815.3 261.2,809.7 C273.93,804.1 277.28,801.4 285.6,797.5 C293.92,793.6 302.93,789.87 311.1,786.3 C319.27,782.73 328.13,779 334.6,776.1 C341.07,773.2 342.43,772.2 349.9,768.9 C357.37,765.6 371.25,759.7 379.4,756.3 C387.55,752.9 392.03,750.97 398.8,748.5 C405.57,746.03 413.72,743.47 420,741.5 C426.28,739.53 431.7,737.53 436.5,736.7 C441.3,735.87 445.73,737.18 448.8,736.5 C451.87,735.82 453.03,733.47 454.9,732.6 C456.77,731.73 457.48,731.57 460,731.3 C462.52,731.03 465.57,730.98 470,731 C474.43,731.02 480.68,730.7 486.6,731.4 C492.52,732.1 501.27,734.18 505.5,735.2 C509.73,736.22 509.92,736.87 512,737.5 C514.08,738.13 516,739.17 518,739 C520,738.83 523,736.92 524,736.5" stroke="#000" stroke-width="2.4" fill="none" stroke-linejoin="round"/>
<path d="M209.2,831.1 C217.87,827.53 248.47,815.3 261.2,809.7 C273.93,804.1 277.28,801.4 285.6,797.5 C293.92,793.6 302.93,789.87 311.1,786.3 C319.27,782.73 328.13,779 334.6,776.1 C341.07,773.2 342.43,772.2 349.9,768.9 C357.37,765.6 371.25,759.7 379.4,756.3 C387.55,752.9 392.03,750.97 398.8,748.5 C405.57,746.03 413.72,743.47 420,741.5 C426.28,739.53 431.7,737.53 436.5,736.7 C441.3,735.87 445.73,737.18 448.8,736.5 C451.87,735.82 453.03,733.47 454.9,732.6 C456.77,731.73 457.48,731.57 460,731.3 C462.52,731.03 465.57,730.98 470,731 C474.43,731.02 480.68,730.7 486.6,731.4 C492.52,732.1 501.27,733.43 505.5,735.2 C509.73,736.97 509.6,739.18 512,742 C514.4,744.82 517.9,751.35 519.9,752.1 C521.9,752.85 523.32,747.43 524,746.5" stroke="#000" stroke-width="1.8" fill="none" stroke-linejoin="round"/>
<text x="399.4" y="708.6" font-family="Liberation Sans" font-size="12" font-weight="bold" text-anchor="start" fill="#000" textLength="115.9" lengthAdjust="spacingAndGlyphs">DIFF CHANNEL 1, 2</text>
<text x="399.4" y="769.7" font-family="Liberation Sans" font-size="12" font-weight="bold" text-anchor="start" fill="#000" textLength="115.9" lengthAdjust="spacingAndGlyphs">DIFF CHANNEL 3, 4</text>
<path d="M482.9,713.2 L495.95,726.32" stroke="#000" stroke-width="1.5"/>
<path d="M502.3,732.7 L491.85,727.58 L497.24,722.22 Z" fill="#000"/>
<path d="M482.9,755.9 L494.76,743.58" stroke="#000" stroke-width="1.5"/>
<path d="M501,737.1 L496.11,747.66 L490.63,742.39 Z" fill="#000"/>
<text x="143.6" y="592.6" font-family="Liberation Sans" font-size="11.6" font-weight="bold" text-anchor="end" fill="#000">0</text>
<text x="143.6" y="622.54" font-family="Liberation Sans" font-size="11.6" font-weight="bold" text-anchor="end" fill="#000">–10</text>
<text x="143.6" y="652.48" font-family="Liberation Sans" font-size="11.6" font-weight="bold" text-anchor="end" fill="#000">–20</text>
<text x="143.6" y="682.42" font-family="Liberation Sans" font-size="11.6" font-weight="bold" text-anchor="end" fill="#000">–30</text>
<text x="143.6" y="712.36" font-family="Liberation Sans" font-size="11.6" font-weight="bold" text-anchor="end" fill="#000">–40</text>
<text x="143.6" y="742.3" font-family="Liberation Sans" font-size="11.6" font-weight="bold" text-anchor="end" fill="#000">–50</text>
<text x="143.6" y="772.24" font-family="Liberation Sans" font-size="11.6" font-weight="bold" text-anchor="end" fill="#000">–60</text>
<text x="143.6" y="802.18" font-family="Liberation Sans" font-size="11.6" font-weight="bold" text-anchor="end" fill="#000">–70</text>
<text x="143.6" y="832.12" font-family="Liberation Sans" font-size="11.6" font-weight="bold" text-anchor="end" fill="#000">–80</text>
<text x="143.6" y="862.06" font-family="Liberation Sans" font-size="11.6" font-weight="bold" text-anchor="end" fill="#000">–90</text>
<text x="143.6" y="892" font-family="Liberation Sans" font-size="11.6" font-weight="bold" text-anchor="end" fill="#000">–100</text>
<text x="149.6" y="904.8" font-family="Liberation Sans" font-size="12" font-weight="bold" text-anchor="middle" fill="#000">100k</text>
<text x="274.53" y="904.8" font-family="Liberation Sans" font-size="12" font-weight="bold" text-anchor="middle" fill="#000">1M</text>
<text x="399.47" y="904.8" font-family="Liberation Sans" font-size="12" font-weight="bold" text-anchor="middle" fill="#000">10M</text>
<text x="524.4" y="904.8" font-family="Liberation Sans" font-size="12" font-weight="bold" text-anchor="middle" fill="#000">100M</text>
<text x="336.6" y="927.8" font-family="Liberation Sans" font-size="12" font-weight="bold" text-anchor="middle" fill="#000" textLength="106" lengthAdjust="spacingAndGlyphs">FREQUENCY (Hz)</text>
<text transform="translate(110.3,737.8) rotate(-90)" x="0" y="0" font-family="Liberation Sans" font-size="12.3" font-weight="bold" text-anchor="middle" fill="#000" textLength="105.5" lengthAdjust="spacingAndGlyphs">CROSSTALK (dB)</text>
<text transform="translate(556,913) rotate(-90)" font-family="Liberation Sans" font-size="7.6" text-anchor="middle" fill="#333" textLength="39.5" lengthAdjust="spacingAndGlyphs">06477-025</text>
<text x="328" y="957.2" font-family="Liberation Sans" font-size="14.6" font-weight="normal" text-anchor="middle" fill="#231f20" textLength="507" lengthAdjust="spacingAndGlyphs" font-style="italic" stroke="#231f20" stroke-width="0.5">Figure 11. Crosstalk vs. Frequency, Dual Differential Driver Circuit (Figure 14),</text>
<text x="328" y="976.2" font-family="Liberation Sans" font-size="14.6" font-weight="normal" text-anchor="middle" fill="#231f20" textLength="183.5" lengthAdjust="spacingAndGlyphs" font-style="italic" stroke="#231f20" stroke-width="0.5">V<tspan font-size="10" dy="2">S</tspan><tspan dy="-2"> = ±12 V, V</tspan><tspan font-size="10" dy="2">IN</tspan><tspan dy="-2"> = 800 mV p-p</tspan></text>
<path d="M190.5,1006V1305.6 M228.5,1006V1305.6 M265.5,1006V1305.6 M303.5,1006V1305.6 M340.5,1006V1305.6 M378.5,1006V1305.6 M415.5,1006V1305.6 M452.5,1006V1305.6 M490.5,1006V1305.6 M153.2,1048.5H527.9 M153.2,1091.5H527.9 M153.2,1134.5H527.9 M153.2,1177.5H527.9 M153.2,1219.5H527.9 M153.2,1263.5H527.9" stroke="#000" stroke-width="1" fill="none"/>
<rect x="153.2" y="1006" width="374.7" height="299.6" fill="none" stroke="#000" stroke-width="2.3"/>
<path d="M181.3,1305.6 L209.4,1218.29 L228.14,1177.2 L246.88,1134.4 L265.61,1091.6 L303.08,1051.37 L340.55,1035.1 L396.75,1026.54 L452.96,1023.55 L527.9,1019.27" stroke="#000" stroke-width="2.3" fill="none" stroke-linejoin="round"/>
<text x="146.8" y="1009.6" font-family="Liberation Sans" font-size="12.2" font-weight="bold" text-anchor="end" fill="#000" textLength="12.8" lengthAdjust="spacingAndGlyphs">45</text>
<text x="146.8" y="1052.4" font-family="Liberation Sans" font-size="12.2" font-weight="bold" text-anchor="end" fill="#000" textLength="12.8" lengthAdjust="spacingAndGlyphs">40</text>
<text x="146.8" y="1095.2" font-family="Liberation Sans" font-size="12.2" font-weight="bold" text-anchor="end" fill="#000" textLength="12.8" lengthAdjust="spacingAndGlyphs">35</text>
<text x="146.8" y="1138" font-family="Liberation Sans" font-size="12.2" font-weight="bold" text-anchor="end" fill="#000" textLength="12.8" lengthAdjust="spacingAndGlyphs">30</text>
<text x="146.8" y="1180.8" font-family="Liberation Sans" font-size="12.2" font-weight="bold" text-anchor="end" fill="#000" textLength="12.8" lengthAdjust="spacingAndGlyphs">25</text>
<text x="146.8" y="1223.6" font-family="Liberation Sans" font-size="12.2" font-weight="bold" text-anchor="end" fill="#000" textLength="12.8" lengthAdjust="spacingAndGlyphs">20</text>
<text x="146.8" y="1266.4" font-family="Liberation Sans" font-size="12.2" font-weight="bold" text-anchor="end" fill="#000" textLength="12.8" lengthAdjust="spacingAndGlyphs">15</text>
<text x="146.8" y="1309.2" font-family="Liberation Sans" font-size="12.2" font-weight="bold" text-anchor="end" fill="#000" textLength="12.8" lengthAdjust="spacingAndGlyphs">10</text>
<text x="153.2" y="1322" font-family="Liberation Sans" font-size="12.2" font-weight="bold" text-anchor="middle" fill="#000">0</text>
<text x="190.67" y="1322" font-family="Liberation Sans" font-size="12.2" font-weight="bold" text-anchor="middle" fill="#000">10</text>
<text x="228.14" y="1322" font-family="Liberation Sans" font-size="12.2" font-weight="bold" text-anchor="middle" fill="#000">20</text>
<text x="265.61" y="1322" font-family="Liberation Sans" font-size="12.2" font-weight="bold" text-anchor="middle" fill="#000">30</text>
<text x="303.08" y="1322" font-family="Liberation Sans" font-size="12.2" font-weight="bold" text-anchor="middle" fill="#000">40</text>
<text x="340.55" y="1322" font-family="Liberation Sans" font-size="12.2" font-weight="bold" text-anchor="middle" fill="#000">50</text>
<text x="378.02" y="1322" font-family="Liberation Sans" font-size="12.2" font-weight="bold" text-anchor="middle" fill="#000">60</text>
<text x="415.49" y="1322" font-family="Liberation Sans" font-size="12.2" font-weight="bold" text-anchor="middle" fill="#000">70</text>
<text x="452.96" y="1322" font-family="Liberation Sans" font-size="12.2" font-weight="bold" text-anchor="middle" fill="#000">80</text>
<text x="490.43" y="1322" font-family="Liberation Sans" font-size="12.2" font-weight="bold" text-anchor="middle" fill="#000">90</text>
<text x="527.9" y="1322" font-family="Liberation Sans" font-size="12.2" font-weight="bold" text-anchor="middle" fill="#000">100</text>
<text x="340.5" y="1344.5" font-family="Liberation Sans" font-size="12" font-weight="bold" text-anchor="middle" fill="#000" textLength="140" lengthAdjust="spacingAndGlyphs">LOAD RESISTANCE (Ω)</text>
<text transform="translate(113.6,1154) rotate(-90)" x="0" y="0" font-family="Liberation Sans" font-size="12.3" font-weight="bold" text-anchor="middle" fill="#000" textLength="188" lengthAdjust="spacingAndGlyphs">DIFFERENTIAL OUTPUT (V p-p)</text>
<text transform="translate(553.5,1329.6) rotate(-90)" font-family="Liberation Sans" font-size="7.6" text-anchor="middle" fill="#333" textLength="39.5" lengthAdjust="spacingAndGlyphs">06477-054</text>
<text x="328" y="1378.3" font-family="Liberation Sans" font-size="14.6" font-weight="normal" text-anchor="middle" fill="#231f20" textLength="295" lengthAdjust="spacingAndGlyphs" font-style="italic" stroke="#231f20" stroke-width="0.5">Figure 12. Differential Output Swing vs. R<tspan font-size="10" dy="2">LOAD</tspan></text>
<text x="328" y="1397.3" font-family="Liberation Sans" font-size="14.6" font-weight="normal" text-anchor="middle" fill="#231f20" textLength="273" lengthAdjust="spacingAndGlyphs" font-style="italic" stroke="#231f20" stroke-width="0.5">Dual Differential Driver Circuit (Figure 14)</text>
<circle cx="787.2" cy="671.3" r="3.1" fill="#fff" stroke="#000" stroke-width="1.7"/>
<path d="M790.6,671.3 L919.4,671.3" stroke="#000" stroke-width="1.1" fill="none" stroke-linejoin="miter" stroke-linecap="square"/>
<circle cx="811.8" cy="671.3" r="3.3" fill="#000"/>
<path d="M811.8,671.3 L811.8,683" stroke="#000" stroke-width="1.6" fill="none" stroke-linejoin="miter" stroke-linecap="square"/>
<path d="M811.8,683 L815,684.54 L808.6,687.62 L815,690.71 L808.6,693.79 L815,696.88 L808.6,699.96 L811.8,701.5" stroke="#000" stroke-width="1.5" fill="none" stroke-linejoin="miter"/>
<path d="M811.8,701.5 L811.8,710" stroke="#000" stroke-width="1.6" fill="none" stroke-linejoin="miter" stroke-linecap="square"/>
<line x1="803.8" y1="710" x2="819.8" y2="710" stroke="#000" stroke-width="1.8"/>
<line x1="805.8" y1="713.4" x2="817.8" y2="713.4" stroke="#000" stroke-width="1.6"/>
<line x1="809.3" y1="716.8" x2="814.3" y2="716.8" stroke="#000" stroke-width="1.1"/>
<text x="819.6" y="695.9" font-family="Liberation Sans" font-size="13.5" font-weight="bold" text-anchor="start" fill="#000" textLength="32.9" lengthAdjust="spacingAndGlyphs">49.9Ω</text>
<path d="M920,658.5 L968.8,686 L920,713.5 Z" stroke="#000" stroke-width="1.8" fill="none" stroke-linejoin="miter"/>
<line x1="943.5" y1="661.74" x2="943.5" y2="671.74" stroke="#000" stroke-width="1.1"/>
<line x1="943.5" y1="700.26" x2="943.5" y2="710.26" stroke="#000" stroke-width="1.1"/>
<line x1="924.1" y1="671.42" x2="930.5" y2="671.42" stroke="#000" stroke-width="2"/>
<line x1="927.3" y1="668.12" x2="927.3" y2="674.72" stroke="#000" stroke-width="2"/>
<line x1="923.7" y1="700.58" x2="930.9" y2="700.58" stroke="#000" stroke-width="2"/>
<path d="M920,700.5 L862.4,700.5 L862.4,755.5" stroke="#000" stroke-width="1.8" fill="none" stroke-linejoin="miter" stroke-linecap="square"/>
<path d="M862.4,755.5 L865.3,757.67 L859.5,762 L865.3,766.33 L859.5,770.67 L865.3,775 L859.5,779.33 L862.4,781.5" stroke="#000" stroke-width="1.5" fill="none" stroke-linejoin="miter"/>
<path d="M862.4,781.5 L862.4,839 L920,839" stroke="#000" stroke-width="1.8" fill="none" stroke-linejoin="miter" stroke-linecap="square"/>
<circle cx="897" cy="700.5" r="3.3" fill="#000"/>
<path d="M897,700.5 L897,740.4" stroke="#000" stroke-width="1.6" fill="none" stroke-linejoin="miter" stroke-linecap="square"/>
<path d="M897,740.4 L931.2,740.4" stroke="#000" stroke-width="1.1" fill="none" stroke-linejoin="miter" stroke-linecap="square"/>
<path d="M931.2,740.4 L932.57,737 L935.3,743.8 L938.03,737 L940.77,743.8 L943.5,737 L946.23,743.8 L947.6,740.4" stroke="#000" stroke-width="1.5" fill="none" stroke-linejoin="miter"/>
<path d="M947.6,740.4 L983.5,740.4 L983.5,686.7" stroke="#000" stroke-width="1.1" fill="none" stroke-linejoin="miter" stroke-linecap="square"/>
<path d="M968.8,686.7 L1017.6,686.7" stroke="#000" stroke-width="2" fill="none" stroke-linejoin="miter" stroke-linecap="square"/>
<circle cx="983.5" cy="686.7" r="3.3" fill="#000"/>
<path d="M1017.6,686.7 L1017.6,755.5" stroke="#000" stroke-width="1.1" fill="none" stroke-linejoin="miter" stroke-linecap="square"/>
<path d="M1017.6,755.5 L1020.5,757.67 L1014.7,762 L1020.5,766.33 L1014.7,770.67 L1020.5,775 L1014.7,779.33 L1017.6,781.5" stroke="#000" stroke-width="1.5" fill="none" stroke-linejoin="miter"/>
<path d="M1017.6,781.5 L1017.6,852.6" stroke="#000" stroke-width="1.1" fill="none" stroke-linejoin="miter" stroke-linecap="square"/>
<path d="M968.8,852.6 L1017.6,852.6" stroke="#000" stroke-width="2" fill="none" stroke-linejoin="miter" stroke-linecap="square"/>
<circle cx="983.5" cy="852.6" r="3.3" fill="#000"/>
<text x="941" y="755.8" font-family="Liberation Sans" font-size="13.5" font-weight="bold" text-anchor="middle" fill="#000" textLength="22" lengthAdjust="spacingAndGlyphs">2kΩ</text>
<text x="853.7" y="773" font-family="Liberation Sans" font-size="13.5" font-weight="bold" text-anchor="end" fill="#000" textLength="29.1" lengthAdjust="spacingAndGlyphs">499Ω</text>
<text x="980.4" y="773" font-family="Liberation Sans" font-size="13.5" font-weight="bold" text-anchor="start" fill="#000" textLength="28.4" lengthAdjust="spacingAndGlyphs">100Ω</text>
<path d="M920,825.4 L968.8,853.25 L920,881.1 Z" stroke="#000" stroke-width="1.8" fill="none" stroke-linejoin="miter"/>
<line x1="943.5" y1="828.81" x2="943.5" y2="838.81" stroke="#000" stroke-width="1.1"/>
<line x1="943.5" y1="867.69" x2="943.5" y2="877.69" stroke="#000" stroke-width="1.1"/>
<line x1="924.1" y1="868.01" x2="930.5" y2="868.01" stroke="#000" stroke-width="2"/>
<line x1="927.3" y1="864.71" x2="927.3" y2="871.31" stroke="#000" stroke-width="2"/>
<line x1="923.7" y1="838.49" x2="930.9" y2="838.49" stroke="#000" stroke-width="2"/>
<circle cx="897" cy="839" r="3.3" fill="#000"/>
<path d="M897,839 L897,803.3 L931.2,803.3" stroke="#000" stroke-width="1.8" fill="none" stroke-linejoin="miter" stroke-linecap="square"/>
<path d="M931.2,803.3 L932.57,799.9 L935.3,806.7 L938.03,799.9 L940.77,806.7 L943.5,799.9 L946.23,806.7 L947.6,803.3" stroke="#000" stroke-width="1.5" fill="none" stroke-linejoin="miter"/>
<path d="M947.6,803.3 L983.5,803.3" stroke="#000" stroke-width="1.8" fill="none" stroke-linejoin="miter" stroke-linecap="square"/>
<path d="M983.5,803.3 L983.5,852.6" stroke="#000" stroke-width="1.1" fill="none" stroke-linejoin="miter" stroke-linecap="square"/>
<text x="941" y="795.8" font-family="Liberation Sans" font-size="13.5" font-weight="bold" text-anchor="middle" fill="#000" textLength="22" lengthAdjust="spacingAndGlyphs">2kΩ</text>
<circle cx="787.2" cy="865.8" r="3.1" fill="#fff" stroke="#000" stroke-width="1.7"/>
<path d="M790.6,865.8 L920,865.8" stroke="#000" stroke-width="1.6" fill="none" stroke-linejoin="miter" stroke-linecap="square"/>
<circle cx="811.8" cy="865.8" r="3.3" fill="#000"/>
<path d="M811.8,865.8 L811.8,876.5" stroke="#000" stroke-width="1.6" fill="none" stroke-linejoin="miter" stroke-linecap="square"/>
<path d="M811.8,876.5 L815,878.04 L808.6,881.12 L815,884.21 L808.6,887.29 L815,890.38 L808.6,893.46 L811.8,895" stroke="#000" stroke-width="1.5" fill="none" stroke-linejoin="miter"/>
<path d="M811.8,895 L811.8,903.8" stroke="#000" stroke-width="1.6" fill="none" stroke-linejoin="miter" stroke-linecap="square"/>
<line x1="803.8" y1="903.8" x2="819.8" y2="903.8" stroke="#000" stroke-width="1.8"/>
<line x1="805.8" y1="907.2" x2="817.8" y2="907.2" stroke="#000" stroke-width="1.6"/>
<line x1="809.3" y1="910.6" x2="814.3" y2="910.6" stroke="#000" stroke-width="1.1"/>
<text x="819.6" y="890.2" font-family="Liberation Sans" font-size="13.5" font-weight="bold" text-anchor="start" fill="#000" textLength="32.9" lengthAdjust="spacingAndGlyphs">49.9Ω</text>
<text transform="translate(1034,891) rotate(-90)" font-family="Liberation Sans" font-size="7.6" text-anchor="middle" fill="#333" textLength="39" lengthAdjust="spacingAndGlyphs">06477-053</text>
<text x="909.3" y="956.5" font-family="Liberation Sans" font-size="14.6" font-weight="normal" text-anchor="middle" fill="#231f20" textLength="268" lengthAdjust="spacingAndGlyphs" font-style="italic" stroke="#231f20" stroke-width="0.5">Figure 14. Dual Differential Driver Circuit</text>
<path d="M843.6,1053.9 L983.6,1053.9" stroke="#000" stroke-width="1.8" fill="none" stroke-linejoin="miter" stroke-linecap="square"/>
<path d="M983.6,1053.9 L985.12,1050.7 L988.15,1057.1 L991.18,1050.7 L994.22,1057.1 L997.25,1050.7 L1000.28,1057.1 L1001.8,1053.9" stroke="#000" stroke-width="1.5" fill="none" stroke-linejoin="miter"/>
<path d="M1001.8,1053.9 L1058.2,1053.9" stroke="#000" stroke-width="1.8" fill="none" stroke-linejoin="miter" stroke-linecap="square"/>
<path d="M1058.2,1053.9 L1058.2,1177.2" stroke="#000" stroke-width="1.2" fill="none" stroke-linejoin="miter" stroke-linecap="square"/>
<path d="M1058.2,1177.2 L1061.6,1178.77 L1054.8,1181.9 L1061.6,1185.03 L1054.8,1188.17 L1061.6,1191.3 L1054.8,1194.43 L1058.2,1196" stroke="#000" stroke-width="1.5" fill="none" stroke-linejoin="miter"/>
<path d="M1058.2,1196 L1058.2,1323.7" stroke="#000" stroke-width="1.2" fill="none" stroke-linejoin="miter" stroke-linecap="square"/>
<path d="M1058.2,1323.7 L1001.8,1323.7" stroke="#000" stroke-width="1.8" fill="none" stroke-linejoin="miter" stroke-linecap="square"/>
<path d="M983.6,1323.7 L985.12,1320.5 L988.15,1326.9 L991.18,1320.5 L994.22,1326.9 L997.25,1320.5 L1000.28,1326.9 L1001.8,1323.7" stroke="#000" stroke-width="1.5" fill="none" stroke-linejoin="miter"/>
<path d="M983.6,1323.7 L843.6,1323.7 L843.6,1230.5" stroke="#000" stroke-width="1.8" fill="none" stroke-linejoin="miter" stroke-linecap="square"/>
<path d="M843.6,1212.6 L847,1214.09 L840.2,1217.07 L847,1220.06 L840.2,1223.04 L847,1226.03 L840.2,1229.01 L843.6,1230.5" stroke="#000" stroke-width="1.5" fill="none" stroke-linejoin="miter"/>
<path d="M843.6,1212.6 L843.6,1163" stroke="#000" stroke-width="1.8" fill="none" stroke-linejoin="miter" stroke-linecap="square"/>
<path d="M843.6,1144.2 L847,1145.77 L840.2,1148.9 L847,1152.03 L840.2,1155.17 L847,1158.3 L840.2,1161.43 L843.6,1163" stroke="#000" stroke-width="1.5" fill="none" stroke-linejoin="miter"/>
<path d="M843.6,1144.2 L843.6,1053.9" stroke="#000" stroke-width="1.8" fill="none" stroke-linejoin="miter" stroke-linecap="square"/>
<text x="992.4" y="1045.4" font-family="Liberation Sans" font-size="12.4" font-weight="bold" text-anchor="middle" fill="#000" textLength="40" lengthAdjust="spacingAndGlyphs">1.78kΩ</text>
<text x="992.4" y="1338.7" font-family="Liberation Sans" font-size="12.4" font-weight="bold" text-anchor="middle" fill="#000" textLength="40" lengthAdjust="spacingAndGlyphs">1.78kΩ</text>
<path d="M722.9,1088.8 L739.4,1088.8" stroke="#000" stroke-width="1.8" fill="none" stroke-linejoin="miter" stroke-linecap="square"/>
<line x1="739.4" y1="1081.4" x2="739.4" y2="1096.2" stroke="#000" stroke-width="1.2"/>
<line x1="744.9" y1="1081.4" x2="744.9" y2="1096.2" stroke="#000" stroke-width="2.2"/>
<path d="M744.9,1088.8 L787.1,1088.8" stroke="#000" stroke-width="1.8" fill="none" stroke-linejoin="miter" stroke-linecap="square"/>
<path d="M787.1,1088.8 L788.57,1085.6 L791.5,1092 L794.43,1085.6 L797.37,1092 L800.3,1085.6 L803.23,1092 L804.7,1088.8" stroke="#000" stroke-width="1.5" fill="none" stroke-linejoin="miter"/>
<path d="M804.7,1088.8 L938.4,1088.8" stroke="#000" stroke-width="1.8" fill="none" stroke-linejoin="miter" stroke-linecap="square"/>
<circle cx="843.6" cy="1088.8" r="3.35" fill="#000"/>
<text x="722.7" y="1109.3" font-family="Liberation Sans" font-size="12.4" font-weight="bold" text-anchor="start" fill="#000" textLength="37.9" lengthAdjust="spacingAndGlyphs">0.01µF</text>
<text x="796.6" y="1105.3" font-family="Liberation Sans" font-size="12.4" font-weight="bold" text-anchor="middle" fill="#000" textLength="29.2" lengthAdjust="spacingAndGlyphs">634Ω</text>
<path d="M722.9,1283.8 L739.4,1283.8" stroke="#000" stroke-width="1.8" fill="none" stroke-linejoin="miter" stroke-linecap="square"/>
<line x1="739.4" y1="1276.4" x2="739.4" y2="1291.2" stroke="#000" stroke-width="1.2"/>
<line x1="744.9" y1="1276.4" x2="744.9" y2="1291.2" stroke="#000" stroke-width="2.2"/>
<path d="M744.9,1283.8 L787.1,1283.8" stroke="#000" stroke-width="1.8" fill="none" stroke-linejoin="miter" stroke-linecap="square"/>
<path d="M787.1,1283.8 L788.57,1280.6 L791.5,1287 L794.43,1280.6 L797.37,1287 L800.3,1280.6 L803.23,1287 L804.7,1283.8" stroke="#000" stroke-width="1.5" fill="none" stroke-linejoin="miter"/>
<path d="M804.7,1283.8 L938.4,1283.8" stroke="#000" stroke-width="1.8" fill="none" stroke-linejoin="miter" stroke-linecap="square"/>
<circle cx="843.6" cy="1283.8" r="3.35" fill="#000"/>
<text x="722.7" y="1271.2" font-family="Liberation Sans" font-size="12.4" font-weight="bold" text-anchor="start" fill="#000" textLength="37.9" lengthAdjust="spacingAndGlyphs">0.01µF</text>
<text x="796.6" y="1298.4" font-family="Liberation Sans" font-size="12.4" font-weight="bold" text-anchor="middle" fill="#000" textLength="29.2" lengthAdjust="spacingAndGlyphs">634Ω</text>
<circle cx="801.8" cy="1187.2" r="3.2" fill="#fff" stroke="#000" stroke-width="1.7"/>
<path d="M805.5,1187.2 L843.6,1187.2" stroke="#000" stroke-width="1.8" fill="none" stroke-linejoin="miter" stroke-linecap="square"/>
<circle cx="843.6" cy="1187.2" r="3.35" fill="#000"/>
<text x="769.4" y="1188.2" font-family="Liberation Sans" font-size="12.4" font-weight="bold" text-anchor="start" fill="#000" textLength="8" lengthAdjust="spacingAndGlyphs">V</text>
<text x="777.6" y="1191.8" font-family="Liberation Sans" font-size="9.2" font-weight="bold" text-anchor="start" fill="#000" textLength="14.8" lengthAdjust="spacingAndGlyphs">CM</text>
<text x="837" y="1157.6" font-family="Liberation Sans" font-size="12.4" font-weight="bold" text-anchor="end" fill="#000" textLength="22.3" lengthAdjust="spacingAndGlyphs">77Ω</text>
<text x="837" y="1225.8" font-family="Liberation Sans" font-size="12.4" font-weight="bold" text-anchor="end" fill="#000" textLength="22.3" lengthAdjust="spacingAndGlyphs">77Ω</text>
<path d="M938.4,1075.8 L987.6,1103.4 L938.4,1131 Z" stroke="#000" stroke-width="1.8" fill="none" stroke-linejoin="miter"/>
<line x1="962.5" y1="1079.32" x2="962.5" y2="1089.32" stroke="#000" stroke-width="1.1"/>
<line x1="962.5" y1="1117.48" x2="962.5" y2="1127.48" stroke="#000" stroke-width="1.1"/>
<line x1="942.5" y1="1088.77" x2="948.9" y2="1088.77" stroke="#000" stroke-width="2"/>
<line x1="945.7" y1="1085.47" x2="945.7" y2="1092.07" stroke="#000" stroke-width="2"/>
<line x1="942.1" y1="1118.03" x2="949.3" y2="1118.03" stroke="#000" stroke-width="2"/>
<path d="M938.4,1244 L987.6,1271.3 L938.4,1298.6 Z" stroke="#000" stroke-width="1.8" fill="none" stroke-linejoin="miter"/>
<line x1="962.5" y1="1247.37" x2="962.5" y2="1257.37" stroke="#000" stroke-width="1.1"/>
<line x1="962.5" y1="1285.23" x2="962.5" y2="1295.23" stroke="#000" stroke-width="1.1"/>
<line x1="942.5" y1="1285.77" x2="948.9" y2="1285.77" stroke="#000" stroke-width="2"/>
<line x1="945.7" y1="1282.47" x2="945.7" y2="1289.07" stroke="#000" stroke-width="2"/>
<line x1="942.1" y1="1256.83" x2="949.3" y2="1256.83" stroke="#000" stroke-width="2"/>
<path d="M987.6,1104 L1020.6,1104" stroke="#000" stroke-width="1.2" fill="none" stroke-linejoin="miter" stroke-linecap="square"/>
<path d="M1020.6,1104 L1022.03,1100.8 L1024.9,1107.2 L1027.77,1100.8 L1030.63,1107.2 L1033.5,1100.8 L1036.37,1107.2 L1037.8,1104" stroke="#000" stroke-width="1.5" fill="none" stroke-linejoin="miter"/>
<path d="M1037.8,1104 L1058.2,1104" stroke="#000" stroke-width="1.2" fill="none" stroke-linejoin="miter" stroke-linecap="square"/>
<circle cx="1002.4" cy="1104" r="3.35" fill="#000"/>
<circle cx="1058.2" cy="1104" r="3.35" fill="#000"/>
<text x="1028.8" y="1118.5" font-family="Liberation Sans" font-size="12.4" font-weight="bold" text-anchor="middle" fill="#000" textLength="32.3" lengthAdjust="spacingAndGlyphs">4.99Ω</text>
<path d="M987.6,1270.6 L1020.6,1270.6" stroke="#000" stroke-width="1.9" fill="none" stroke-linejoin="miter" stroke-linecap="square"/>
<path d="M1020.6,1270.6 L1022.03,1267.4 L1024.9,1273.8 L1027.77,1267.4 L1030.63,1273.8 L1033.5,1267.4 L1036.37,1273.8 L1037.8,1270.6" stroke="#000" stroke-width="1.5" fill="none" stroke-linejoin="miter"/>
<path d="M1037.8,1270.6 L1058.2,1270.6" stroke="#000" stroke-width="1.9" fill="none" stroke-linejoin="miter" stroke-linecap="square"/>
<circle cx="1002.4" cy="1270.6" r="3.35" fill="#000"/>
<circle cx="1058.2" cy="1270.6" r="3.35" fill="#000"/>
<text x="1028.8" y="1264" font-family="Liberation Sans" font-size="12.4" font-weight="bold" text-anchor="middle" fill="#000" textLength="32.3" lengthAdjust="spacingAndGlyphs">4.99Ω</text>
<path d="M938.4,1118.2 L892.6,1118.2" stroke="#000" stroke-width="1.9" fill="none" stroke-linejoin="miter" stroke-linecap="square"/>
<path d="M892.6,1118.2 L892.6,1142" stroke="#000" stroke-width="1.2" fill="none" stroke-linejoin="miter" stroke-linecap="square"/>
<path d="M892.6,1142 L895.6,1143.67 L889.6,1147 L895.6,1150.33 L889.6,1153.67 L895.6,1157 L889.6,1160.33 L892.6,1162" stroke="#000" stroke-width="1.5" fill="none" stroke-linejoin="miter"/>
<path d="M892.6,1162 L892.6,1185" stroke="#000" stroke-width="1.2" fill="none" stroke-linejoin="miter" stroke-linecap="square"/>
<line x1="885.2" y1="1185" x2="900" y2="1185" stroke="#000" stroke-width="1.4"/>
<line x1="885.2" y1="1189.7" x2="900" y2="1189.7" stroke="#000" stroke-width="2.3"/>
<path d="M892.6,1189.7 L892.6,1212.5" stroke="#000" stroke-width="1.2" fill="none" stroke-linejoin="miter" stroke-linecap="square"/>
<path d="M892.6,1212.5 L895.6,1213.96 L889.6,1216.88 L895.6,1219.79 L889.6,1222.71 L895.6,1225.62 L889.6,1228.54 L892.6,1230" stroke="#000" stroke-width="1.5" fill="none" stroke-linejoin="miter"/>
<path d="M892.6,1230 L892.6,1256.5" stroke="#000" stroke-width="1.2" fill="none" stroke-linejoin="miter" stroke-linecap="square"/>
<path d="M892.6,1256.5 L938.4,1256.5" stroke="#000" stroke-width="1.2" fill="none" stroke-linejoin="miter" stroke-linecap="square"/>
<circle cx="915.5" cy="1118.2" r="3.35" fill="#000"/>
<circle cx="915.5" cy="1256.5" r="3.35" fill="#000"/>
<path d="M915.5,1118.2 L915.5,1157.7 L950,1157.7" stroke="#000" stroke-width="1.8" fill="none" stroke-linejoin="miter" stroke-linecap="square"/>
<path d="M950,1157.7 L951.44,1154.5 L954.33,1160.9 L957.21,1154.5 L960.09,1160.9 L962.97,1154.5 L965.86,1160.9 L967.3,1157.7" stroke="#000" stroke-width="1.5" fill="none" stroke-linejoin="miter"/>
<path d="M967.3,1157.7 L1002.4,1157.7" stroke="#000" stroke-width="1.8" fill="none" stroke-linejoin="miter" stroke-linecap="square"/>
<path d="M1002.4,1157.7 L1002.4,1104" stroke="#000" stroke-width="1.2" fill="none" stroke-linejoin="miter" stroke-linecap="square"/>
<path d="M915.5,1256.5 L915.5,1221.7 L950,1221.7" stroke="#000" stroke-width="1.3" fill="none" stroke-linejoin="miter" stroke-linecap="square"/>
<path d="M950,1221.7 L951.44,1218.5 L954.33,1224.9 L957.21,1218.5 L960.09,1224.9 L962.97,1218.5 L965.86,1224.9 L967.3,1221.7" stroke="#000" stroke-width="1.5" fill="none" stroke-linejoin="miter"/>
<path d="M967.3,1221.7 L1002.4,1221.7 L1002.4,1270.6" stroke="#000" stroke-width="1.3" fill="none" stroke-linejoin="miter" stroke-linecap="square"/>
<text x="958.6" y="1172.5" font-family="Liberation Sans" font-size="12.4" font-weight="bold" text-anchor="middle" fill="#000" textLength="22" lengthAdjust="spacingAndGlyphs">2kΩ</text>
<text x="958.6" y="1213.2" font-family="Liberation Sans" font-size="12.4" font-weight="bold" text-anchor="middle" fill="#000" textLength="22" lengthAdjust="spacingAndGlyphs">2kΩ</text>
<text x="884.1" y="1157.6" font-family="Liberation Sans" font-size="12.4" font-weight="bold" text-anchor="end" fill="#000" textLength="22" lengthAdjust="spacingAndGlyphs">87Ω</text>
<text x="884.1" y="1225.8" font-family="Liberation Sans" font-size="12.4" font-weight="bold" text-anchor="end" fill="#000" textLength="22" lengthAdjust="spacingAndGlyphs">87Ω</text>
<text x="904.5" y="1190.3" font-family="Liberation Sans" font-size="12.4" font-weight="bold" text-anchor="start" fill="#000" textLength="20.5" lengthAdjust="spacingAndGlyphs">1µF</text>
<text x="1066" y="1190.6" font-family="Liberation Sans" font-size="12.4" font-weight="bold" text-anchor="start" fill="#000" textLength="29.3" lengthAdjust="spacingAndGlyphs">100Ω</text>
<text transform="translate(1093,1324.6) rotate(-90)" font-family="Liberation Sans" font-size="7.6" text-anchor="middle" fill="#333" textLength="37.6" lengthAdjust="spacingAndGlyphs">06477-021</text>
<text x="909.3" y="1377.4" font-family="Liberation Sans" font-size="14.6" font-weight="normal" text-anchor="middle" fill="#231f20" textLength="208" lengthAdjust="spacingAndGlyphs" font-style="italic" stroke="#231f20" stroke-width="0.5">Figure 15. ADSL/ADSL2+ Circuit</text>
<text x="618.4" y="1571.1" font-family="Liberation Sans" font-size="15" font-weight="normal" text-anchor="middle" fill="#231f20" textLength="128.5" lengthAdjust="spacingAndGlyphs" stroke="#231f20" stroke-width="0.2">Rev. A | Page 6 of 12</text>
</svg></body></html>
